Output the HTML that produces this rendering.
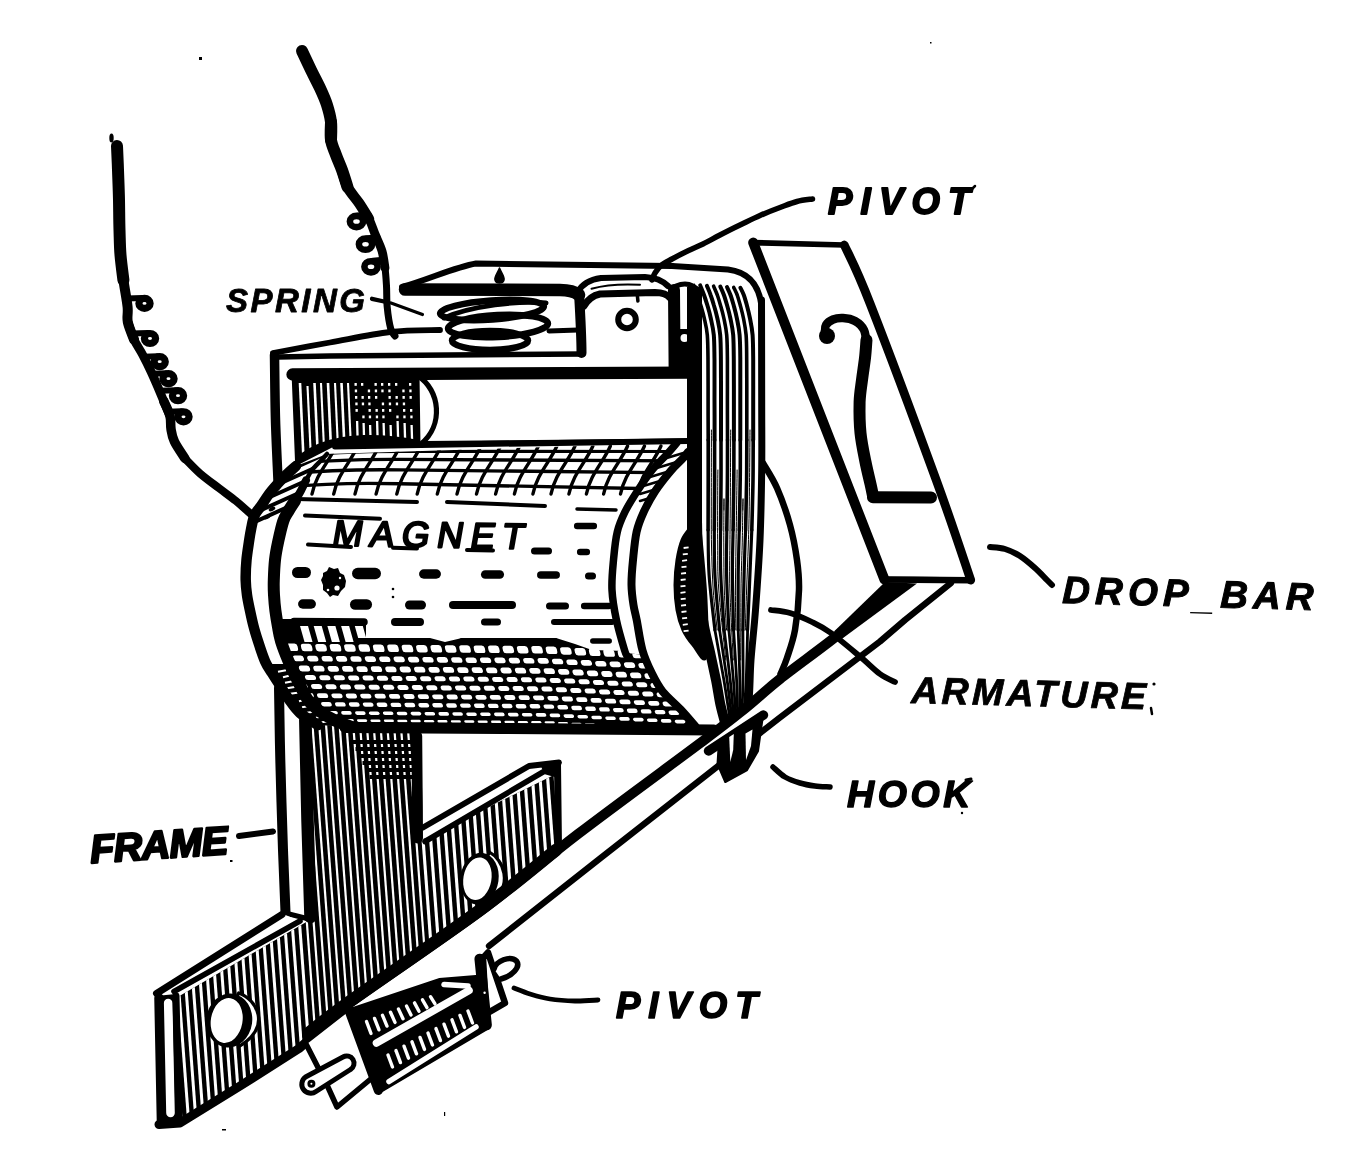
<!DOCTYPE html>
<html><head><meta charset="utf-8"><title>Annunciator drop</title>
<style>
html,body{margin:0;padding:0;background:#fff;}
body{width:1364px;height:1176px;overflow:hidden;font-family:"Liberation Sans",sans-serif;}
svg{display:block;will-change:transform;transform:translateZ(0)}
svg text{font-family:"Liberation Sans",sans-serif;font-weight:bold;font-style:italic;fill:#000;stroke:#000;stroke-width:1.3px;stroke-linejoin:round;paint-order:stroke}
</style></head><body>
<svg width="1364" height="1176" viewBox="0 0 1364 1176" fill="none" stroke="#000" stroke-linecap="round" stroke-linejoin="round">
<rect x="0" y="0" width="1364" height="1176" fill="#fff" stroke="none"/>
<defs>
<clipPath id="cLF"><path d="M302,716 L421,733 L423,839 L556,774 L558,850 L480,911.5 L349,1003.5 L306,1038 L299,1047 L240,1085 L182,1121 L176,998 L308,921Z"/></clipPath>
<clipPath id="cUF"><path d="M293,372 L418,372 L418,455 L298,475Z"/></clipPath>
</defs>
<path d="M302.0,51.0 C303.5,54.2 308.0,63.8 311.0,70.0 C314.0,76.2 317.3,82.2 320.0,88.0 C322.7,93.8 325.2,99.3 327.0,105.0 C328.8,110.7 330.3,116.2 331.0,122.0 C331.7,127.8 331.0,137.0 331.0,140.0" stroke-width="12" />
<path d="M331.0,122.0 C331.0,125.0 330.2,134.5 331.0,140.0 C331.8,145.5 334.2,150.0 336.0,155.0 C337.8,160.0 340.1,164.7 342.0,170.0 C343.9,175.3 346.6,184.2 347.5,187.0" stroke-width="12" />
<path d="M342.0,170.0 C342.9,172.8 344.7,181.5 347.5,187.0 C350.3,192.5 355.4,197.7 359.0,203.0 C362.6,208.3 367.3,216.3 369.0,219.0" stroke-width="10.5" />
<path d="M359.0,203.0 C360.7,205.7 366.3,213.8 369.0,219.0 C371.7,224.2 372.8,228.7 375.0,234.0 C377.2,239.3 380.3,245.3 382.0,251.0 C383.7,256.7 384.5,265.2 385.0,268.0" stroke-width="8.8" />
<path d="M382.0,251.0 C382.5,253.8 384.2,262.2 385.0,268.0 C385.8,273.8 386.1,279.5 386.5,286.0 C386.9,292.5 386.5,299.8 387.2,307.0 C387.9,314.2 389.5,324.2 390.8,329.0 C392.1,333.8 394.3,334.8 395.0,336.0" stroke-width="7" />
<ellipse cx="356.5" cy="221.5" rx="6.6" ry="5.6" stroke-width="6.6"/>
<line x1="358.5" y1="215.5" x2="368.5" y2="214.5" stroke-width="6"/>
<ellipse cx="365.5" cy="244.2" rx="6.6" ry="5.6" stroke-width="6.6"/>
<line x1="367.5" y1="238.2" x2="377.5" y2="237.2" stroke-width="6"/>
<ellipse cx="371" cy="266.8" rx="6.6" ry="5.6" stroke-width="6.6"/>
<line x1="373.0" y1="260.8" x2="383.0" y2="259.8" stroke-width="6"/>
<path d="M117.0,146.0 C117.2,150.0 117.7,161.0 118.0,170.0 C118.3,179.0 118.8,190.0 119.0,200.0 C119.2,210.0 119.2,220.8 119.5,230.0 C119.8,239.2 119.8,246.7 120.5,255.0 C121.2,263.3 122.9,275.8 123.4,280.0" stroke-width="12" />
<path d="M120.5,255.0 C121.0,259.2 122.2,271.3 123.4,280.0 C124.6,288.7 126.9,300.0 127.6,307.0 C128.3,314.0 126.7,316.6 127.8,322.0 C128.9,327.4 133.0,336.6 134.0,339.5" stroke-width="10" />
<path d="M127.8,322.0 C128.8,324.9 131.6,334.1 134.0,339.5 C136.4,344.9 139.7,349.2 142.5,354.5 C145.3,359.8 148.5,366.2 151.0,371.5 C153.5,376.8 155.3,381.1 157.4,386.0 C159.5,390.9 161.6,396.0 163.7,401.0 C165.8,406.0 168.9,413.5 170.0,416.0" stroke-width="8.8" />
<path d="M163.7,401.0 C164.8,403.5 168.8,411.3 170.0,416.0 C171.2,420.7 170.3,424.8 171.0,429.0 C171.7,433.2 172.1,436.6 174.4,441.5 C176.7,446.4 183.2,455.7 185.0,458.5" stroke-width="9.5" />
<path d="M185.0,458.5 C187.5,461.0 194.3,468.4 200.0,473.4 C205.7,478.3 213.0,483.6 219.0,488.2 C225.0,492.8 230.3,496.4 236.0,501.0 C241.7,505.6 250.2,513.5 253.0,516.0" stroke-width="8" />
<ellipse cx="111.5" cy="138" rx="2.2" ry="4.5" fill="#000" stroke="none"/>
<ellipse cx="144.5" cy="303.4" rx="5.6" ry="5.0" stroke-width="7.2"/>
<line x1="126.3" y1="298.4" x2="142.5" y2="297.9" stroke-width="6"/>
<ellipse cx="150" cy="338.5" rx="5.6" ry="5.0" stroke-width="7.2"/>
<line x1="131.9" y1="333.5" x2="148.0" y2="333.0" stroke-width="6"/>
<ellipse cx="159.7" cy="361.7" rx="5.6" ry="5.0" stroke-width="7.2"/>
<line x1="143.6" y1="356.7" x2="157.7" y2="356.2" stroke-width="6"/>
<ellipse cx="168.5" cy="378.7" rx="5.6" ry="5.0" stroke-width="7.2"/>
<line x1="152.0" y1="373.7" x2="166.5" y2="373.2" stroke-width="6"/>
<ellipse cx="178" cy="395.7" rx="5.6" ry="5.0" stroke-width="7.2"/>
<line x1="159.4" y1="390.7" x2="176.0" y2="390.2" stroke-width="6"/>
<ellipse cx="183.5" cy="416.8" rx="5.6" ry="5.0" stroke-width="7.2"/>
<line x1="168.2" y1="411.8" x2="181.5" y2="411.3" stroke-width="6"/>
<g clip-path="url(#cUF)">
<rect x="290" y="368" width="130" height="110" fill="#000" stroke="none"/>
<line x1="300.0" y1="383" x2="304.0" y2="470" stroke="#fff" stroke-width="2.6" stroke-linecap="butt"/>
<line x1="307.5" y1="386" x2="311.5" y2="470" stroke="#fff" stroke-width="2.1" stroke-linecap="butt"/>
<line x1="314.5" y1="383" x2="318.5" y2="470" stroke="#fff" stroke-width="2.6" stroke-linecap="butt"/>
<line x1="321.0" y1="383" x2="325.0" y2="470" stroke="#fff" stroke-width="2.1" stroke-linecap="butt"/>
<line x1="328.0" y1="383" x2="332.0" y2="470" stroke="#fff" stroke-width="2.6" stroke-linecap="butt"/>
<line x1="335.0" y1="383" x2="339.0" y2="470" stroke="#fff" stroke-width="2.1" stroke-linecap="butt"/>
<line x1="341.5" y1="383" x2="345.5" y2="470" stroke="#fff" stroke-width="2.6" stroke-linecap="butt"/>
<line x1="348.0" y1="383" x2="352.0" y2="470" stroke="#fff" stroke-width="2.1" stroke-linecap="butt"/>
<rect x="354.5" y="383" width="2.3" height="2.8" fill="#fff" stroke="none"/>
<rect x="354.8" y="389.5" width="2.3" height="2.8" fill="#fff" stroke="none"/>
<rect x="355.0" y="396" width="2.3" height="2.8" fill="#fff" stroke="none"/>
<rect x="355.3" y="402.5" width="2.3" height="2.8" fill="#fff" stroke="none"/>
<rect x="355.5" y="409" width="2.3" height="2.8" fill="#fff" stroke="none"/>
<line x1="357.1" y1="421" x2="358.5" y2="470" stroke="#fff" stroke-width="2.3" stroke-linecap="butt"/>
<rect x="361.0" y="383" width="2.3" height="2.8" fill="#fff" stroke="none"/>
<rect x="361.5" y="396" width="2.3" height="2.8" fill="#fff" stroke="none"/>
<rect x="361.8" y="402.5" width="2.3" height="2.8" fill="#fff" stroke="none"/>
<rect x="362.3" y="415.5" width="2.3" height="2.8" fill="#fff" stroke="none"/>
<line x1="363.6" y1="423" x2="365.0" y2="470" stroke="#fff" stroke-width="2.3" stroke-linecap="butt"/>
<rect x="367.8" y="389.5" width="2.3" height="2.8" fill="#fff" stroke="none"/>
<rect x="368.0" y="396" width="2.3" height="2.8" fill="#fff" stroke="none"/>
<rect x="368.3" y="402.5" width="2.3" height="2.8" fill="#fff" stroke="none"/>
<rect x="368.5" y="409" width="2.3" height="2.8" fill="#fff" stroke="none"/>
<rect x="368.8" y="415.5" width="2.3" height="2.8" fill="#fff" stroke="none"/>
<line x1="370.1" y1="425" x2="371.5" y2="470" stroke="#fff" stroke-width="2.3" stroke-linecap="butt"/>
<rect x="374.5" y="383" width="2.3" height="2.8" fill="#fff" stroke="none"/>
<rect x="374.8" y="389.5" width="2.3" height="2.8" fill="#fff" stroke="none"/>
<rect x="375.0" y="396" width="2.3" height="2.8" fill="#fff" stroke="none"/>
<rect x="375.5" y="409" width="2.3" height="2.8" fill="#fff" stroke="none"/>
<rect x="375.8" y="415.5" width="2.3" height="2.8" fill="#fff" stroke="none"/>
<line x1="377.1" y1="421" x2="378.5" y2="470" stroke="#fff" stroke-width="2.3" stroke-linecap="butt"/>
<rect x="381.0" y="383" width="2.3" height="2.8" fill="#fff" stroke="none"/>
<rect x="381.3" y="389.5" width="2.3" height="2.8" fill="#fff" stroke="none"/>
<rect x="381.8" y="402.5" width="2.3" height="2.8" fill="#fff" stroke="none"/>
<rect x="382.0" y="409" width="2.3" height="2.8" fill="#fff" stroke="none"/>
<rect x="382.3" y="415.5" width="2.3" height="2.8" fill="#fff" stroke="none"/>
<line x1="383.6" y1="423" x2="385.0" y2="470" stroke="#fff" stroke-width="2.3" stroke-linecap="butt"/>
<rect x="388.0" y="383" width="2.3" height="2.8" fill="#fff" stroke="none"/>
<rect x="388.3" y="389.5" width="2.3" height="2.8" fill="#fff" stroke="none"/>
<rect x="388.5" y="396" width="2.3" height="2.8" fill="#fff" stroke="none"/>
<rect x="388.8" y="402.5" width="2.3" height="2.8" fill="#fff" stroke="none"/>
<rect x="389.0" y="409" width="2.3" height="2.8" fill="#fff" stroke="none"/>
<line x1="390.6" y1="425" x2="392.0" y2="470" stroke="#fff" stroke-width="2.3" stroke-linecap="butt"/>
<rect x="395.0" y="383" width="2.3" height="2.8" fill="#fff" stroke="none"/>
<rect x="395.5" y="396" width="2.3" height="2.8" fill="#fff" stroke="none"/>
<rect x="395.8" y="402.5" width="2.3" height="2.8" fill="#fff" stroke="none"/>
<rect x="396.3" y="415.5" width="2.3" height="2.8" fill="#fff" stroke="none"/>
<line x1="397.6" y1="421" x2="399.0" y2="470" stroke="#fff" stroke-width="2.3" stroke-linecap="butt"/>
<rect x="402.3" y="389.5" width="2.3" height="2.8" fill="#fff" stroke="none"/>
<rect x="402.5" y="396" width="2.3" height="2.8" fill="#fff" stroke="none"/>
<rect x="402.8" y="402.5" width="2.3" height="2.8" fill="#fff" stroke="none"/>
<rect x="403.0" y="409" width="2.3" height="2.8" fill="#fff" stroke="none"/>
<rect x="403.3" y="415.5" width="2.3" height="2.8" fill="#fff" stroke="none"/>
<line x1="404.6" y1="423" x2="406.0" y2="470" stroke="#fff" stroke-width="2.3" stroke-linecap="butt"/>
<rect x="409.0" y="383" width="2.3" height="2.8" fill="#fff" stroke="none"/>
<rect x="409.3" y="389.5" width="2.3" height="2.8" fill="#fff" stroke="none"/>
<rect x="409.5" y="396" width="2.3" height="2.8" fill="#fff" stroke="none"/>
<rect x="410.0" y="409" width="2.3" height="2.8" fill="#fff" stroke="none"/>
<rect x="410.3" y="415.5" width="2.3" height="2.8" fill="#fff" stroke="none"/>
<line x1="411.6" y1="425" x2="413.0" y2="470" stroke="#fff" stroke-width="2.3" stroke-linecap="butt"/>
</g>
<path d="M274.5,355.0 C274.7,365.8 274.9,399.2 275.5,420.0 C276.1,440.8 277.6,470.0 278.0,480.0" stroke-width="9.5" />
<path d="M273.0,353.0 C282.5,351.2 310.5,346.0 330.0,342.5 C349.5,339.0 371.7,334.1 390.0,332.0 C408.3,329.9 431.7,330.3 440.0,330.0" stroke-width="5.8" />
<path d="M278.0,357.0 L330.0,356.0 L450.0,355.0 L583.0,354.0" stroke-width="5.4" />
<path d="M292.5,374.5 L690.0,372.6" stroke-width="12.3" />
<path d="M294.0,372.0 L298.0,474.0" stroke-width="5" />
<path d="M418,376 C440,390 444,425 421,444" stroke-width="5.2"/>
<path d="M417.0,374.0 L418.0,446.0" stroke-width="5" />
<path d="M424.0,444.0 L688.0,441.5" stroke-width="6" />
<g clip-path="url(#cLF)">
<rect x="150" y="700" width="420" height="440" fill="#000" stroke="none"/>
<line x1="120.0" y1="700" x2="153.0" y2="1140" stroke="#fff" stroke-width="3.0" stroke-linecap="butt"/>
<line x1="127.4" y1="700" x2="160.4" y2="1140" stroke="#fff" stroke-width="3.0" stroke-linecap="butt"/>
<line x1="134.8" y1="700" x2="167.8" y2="1140" stroke="#fff" stroke-width="3.0" stroke-linecap="butt"/>
<line x1="142.2" y1="700" x2="175.2" y2="1140" stroke="#fff" stroke-width="3.0" stroke-linecap="butt"/>
<line x1="149.6" y1="700" x2="182.6" y2="1140" stroke="#fff" stroke-width="3.0" stroke-linecap="butt"/>
<line x1="157.0" y1="700" x2="190.0" y2="1140" stroke="#fff" stroke-width="3.0" stroke-linecap="butt"/>
<line x1="164.4" y1="700" x2="197.4" y2="1140" stroke="#fff" stroke-width="3.0" stroke-linecap="butt"/>
<line x1="171.8" y1="700" x2="204.8" y2="1140" stroke="#fff" stroke-width="3.0" stroke-linecap="butt"/>
<line x1="179.2" y1="700" x2="212.2" y2="1140" stroke="#fff" stroke-width="3.0" stroke-linecap="butt"/>
<line x1="186.6" y1="700" x2="219.6" y2="1140" stroke="#fff" stroke-width="3.0" stroke-linecap="butt"/>
<line x1="194.0" y1="700" x2="227.0" y2="1140" stroke="#fff" stroke-width="3.0" stroke-linecap="butt"/>
<line x1="201.4" y1="700" x2="234.4" y2="1140" stroke="#fff" stroke-width="3.0" stroke-linecap="butt"/>
<line x1="208.8" y1="700" x2="241.8" y2="1140" stroke="#fff" stroke-width="3.0" stroke-linecap="butt"/>
<line x1="216.2" y1="700" x2="249.2" y2="1140" stroke="#fff" stroke-width="3.0" stroke-linecap="butt"/>
<line x1="223.6" y1="700" x2="256.6" y2="1140" stroke="#fff" stroke-width="3.0" stroke-linecap="butt"/>
<line x1="231.0" y1="700" x2="264.0" y2="1140" stroke="#fff" stroke-width="3.0" stroke-linecap="butt"/>
<line x1="238.4" y1="700" x2="271.4" y2="1140" stroke="#fff" stroke-width="3.0" stroke-linecap="butt"/>
<line x1="245.8" y1="700" x2="278.8" y2="1140" stroke="#fff" stroke-width="3.0" stroke-linecap="butt"/>
<line x1="253.2" y1="700" x2="286.2" y2="1140" stroke="#fff" stroke-width="3.0" stroke-linecap="butt"/>
<line x1="260.6" y1="700" x2="293.6" y2="1140" stroke="#fff" stroke-width="3.0" stroke-linecap="butt"/>
<line x1="268.0" y1="700" x2="301.0" y2="1140" stroke="#fff" stroke-width="3.0" stroke-linecap="butt"/>
<line x1="275.4" y1="700" x2="308.4" y2="1140" stroke="#fff" stroke-width="3.0" stroke-linecap="butt"/>
<line x1="282.8" y1="700" x2="315.8" y2="1140" stroke="#fff" stroke-width="3.0" stroke-linecap="butt"/>
<line x1="290.2" y1="700" x2="323.2" y2="1140" stroke="#fff" stroke-width="2.2" stroke-linecap="butt"/>
<line x1="297.0" y1="700" x2="330.0" y2="1140" stroke="#fff" stroke-width="2.2" stroke-linecap="butt"/>
<line x1="303.8" y1="700" x2="336.8" y2="1140" stroke="#fff" stroke-width="2.2" stroke-linecap="butt"/>
<line x1="310.6" y1="700" x2="343.6" y2="1140" stroke="#fff" stroke-width="2.2" stroke-linecap="butt"/>
<line x1="317.4" y1="700" x2="350.4" y2="1140" stroke="#fff" stroke-width="2.2" stroke-linecap="butt"/>
<line x1="324.2" y1="700" x2="357.2" y2="1140" stroke="#fff" stroke-width="2.2" stroke-linecap="butt"/>
<line x1="331.0" y1="700" x2="364.0" y2="1140" stroke="#fff" stroke-width="2.2" stroke-linecap="butt"/>
<line x1="337.8" y1="700" x2="370.8" y2="1140" stroke="#fff" stroke-width="2.2" stroke-linecap="butt"/>
<line x1="344.6" y1="700" x2="377.6" y2="1140" stroke="#fff" stroke-width="2.2" stroke-linecap="butt"/>
<line x1="351.4" y1="700" x2="384.4" y2="1140" stroke="#fff" stroke-width="2.2" stroke-linecap="butt"/>
<line x1="358.2" y1="700" x2="391.2" y2="1140" stroke="#fff" stroke-width="2.2" stroke-linecap="butt"/>
<line x1="365.0" y1="700" x2="398.0" y2="1140" stroke="#fff" stroke-width="2.2" stroke-linecap="butt"/>
<line x1="371.8" y1="700" x2="404.8" y2="1140" stroke="#fff" stroke-width="2.2" stroke-linecap="butt"/>
<line x1="378.6" y1="700" x2="411.6" y2="1140" stroke="#fff" stroke-width="2.2" stroke-linecap="butt"/>
<line x1="385.4" y1="700" x2="418.4" y2="1140" stroke="#fff" stroke-width="2.2" stroke-linecap="butt"/>
<line x1="392.2" y1="700" x2="425.2" y2="1140" stroke="#fff" stroke-width="2.2" stroke-linecap="butt"/>
<line x1="399.0" y1="700" x2="432.0" y2="1140" stroke="#fff" stroke-width="2.2" stroke-linecap="butt"/>
<line x1="405.8" y1="700" x2="438.8" y2="1140" stroke="#fff" stroke-width="2.2" stroke-linecap="butt"/>
<line x1="412.6" y1="700" x2="445.6" y2="1140" stroke="#fff" stroke-width="3.1" stroke-linecap="butt"/>
<line x1="420.2" y1="700" x2="453.2" y2="1140" stroke="#fff" stroke-width="3.1" stroke-linecap="butt"/>
<line x1="427.8" y1="700" x2="460.8" y2="1140" stroke="#fff" stroke-width="3.1" stroke-linecap="butt"/>
<line x1="435.4" y1="700" x2="468.4" y2="1140" stroke="#fff" stroke-width="3.1" stroke-linecap="butt"/>
<line x1="443.0" y1="700" x2="476.0" y2="1140" stroke="#fff" stroke-width="3.1" stroke-linecap="butt"/>
<line x1="450.6" y1="700" x2="483.6" y2="1140" stroke="#fff" stroke-width="3.1" stroke-linecap="butt"/>
<line x1="458.2" y1="700" x2="491.2" y2="1140" stroke="#fff" stroke-width="3.1" stroke-linecap="butt"/>
<line x1="465.8" y1="700" x2="498.8" y2="1140" stroke="#fff" stroke-width="3.1" stroke-linecap="butt"/>
<line x1="473.4" y1="700" x2="506.4" y2="1140" stroke="#fff" stroke-width="3.1" stroke-linecap="butt"/>
<line x1="481.0" y1="700" x2="514.0" y2="1140" stroke="#fff" stroke-width="3.1" stroke-linecap="butt"/>
<line x1="488.6" y1="700" x2="521.6" y2="1140" stroke="#fff" stroke-width="3.1" stroke-linecap="butt"/>
<line x1="496.2" y1="700" x2="529.2" y2="1140" stroke="#fff" stroke-width="3.1" stroke-linecap="butt"/>
<line x1="503.8" y1="700" x2="536.8" y2="1140" stroke="#fff" stroke-width="3.1" stroke-linecap="butt"/>
<line x1="511.4" y1="700" x2="544.4" y2="1140" stroke="#fff" stroke-width="3.1" stroke-linecap="butt"/>
<line x1="519.0" y1="700" x2="552.0" y2="1140" stroke="#fff" stroke-width="3.1" stroke-linecap="butt"/>
<line x1="526.6" y1="700" x2="559.6" y2="1140" stroke="#fff" stroke-width="3.1" stroke-linecap="butt"/>
<line x1="534.2" y1="700" x2="567.2" y2="1140" stroke="#fff" stroke-width="3.1" stroke-linecap="butt"/>
<line x1="541.8" y1="700" x2="574.8" y2="1140" stroke="#fff" stroke-width="3.1" stroke-linecap="butt"/>
<line x1="549.4" y1="700" x2="582.4" y2="1140" stroke="#fff" stroke-width="3.1" stroke-linecap="butt"/>
<line x1="352.0" y1="742" x2="416" y2="742" stroke="#000" stroke-width="3.8" stroke-linecap="butt"/>
<line x1="355.5" y1="749" x2="416" y2="749" stroke="#000" stroke-width="3.8" stroke-linecap="butt"/>
<line x1="359.0" y1="756" x2="416" y2="756" stroke="#000" stroke-width="3.8" stroke-linecap="butt"/>
<line x1="362.5" y1="763" x2="416" y2="763" stroke="#000" stroke-width="3.8" stroke-linecap="butt"/>
<line x1="366.0" y1="770" x2="416" y2="770" stroke="#000" stroke-width="3.8" stroke-linecap="butt"/>
<line x1="369.5" y1="777" x2="416" y2="777" stroke="#000" stroke-width="3.8" stroke-linecap="butt"/>
</g>
<path d="M305.3,720.0 L307.5,820.0 L310.5,917.0" stroke-width="12.5" />
<path d="M416.8,736.0 L417.6,838.0" stroke-width="10.8" />
<path d="M557.5,764.0 L558.5,848.0" stroke-width="7" />
<path d="M279.0,688.0 C279.2,700.0 279.6,733.0 280.3,760.0 C281.0,787.0 282.1,824.7 283.0,850.0 C283.9,875.3 285.1,901.7 285.5,912.0" stroke-width="10" />
<path d="M285.0,913.0 L309.0,919.0" stroke-width="5" />
<path d="M157.0,994.0 L283.0,914.0 L300.0,921.0 L175.0,991.0Z" fill="#fff" stroke="none" stroke-width="0" />
<path d="M156.5,993.5 L282.0,914.5" stroke-width="7" />
<path d="M174.0,991.5 L300.0,921.0" stroke-width="5.6" />
<path d="M156.0,996.0 L176.0,994.0 L179.0,1119.0 L159.0,1126.0Z" fill="#000" stroke="none" stroke-width="0" />
<path d="M159.0,998.0 L161.5,1123.0" stroke-width="9.5" />
<path d="M168.2,1003 L170.5,1113" stroke="#fff" stroke-width="8.6" stroke-linecap="round"/>
<path d="M176.0,996.0 L179.0,1119.0" stroke-width="7" />
<path d="M159.0,1124.5 L180.0,1123.0 L240.0,1086.0 L299.0,1048.5 L307.0,1041.5" stroke-width="9" />
<path d="M423.0,828.0 L541.0,766.0 L544.0,774.0 L426.0,841.0Z" fill="#fff" stroke="none" stroke-width="0" />
<path d="M541.0,766.0 L558.0,761.0 L558.0,778.0 L544.0,774.0Z" fill="#000" stroke="none" stroke-width="0" />
<path d="M423.0,827.5 L529.0,766.0 L559.0,762.5" stroke-width="5.8" />
<path d="M425.0,841.5 L543.0,772.0" stroke-width="5.6" />
<path d="M238.7,992.9 C257.5,999.9 271.4,1026.5 239.7,1046.1 L226.7,1020.5 Z" fill="#fff" stroke="#000" stroke-width="3.2"/>
<ellipse cx="229.2" cy="1020.5" rx="23.0" ry="27.1" fill="#000" stroke="none" transform="rotate(8 229.2 1020.5)"/>
<ellipse cx="226.7" cy="1020.5" rx="15.8" ry="22.6" fill="#fff" stroke="none" transform="rotate(10 226.7 1020.5)"/>
<path d="M489.4,852.2 C502.9,859.2 514.4,884.7 490.4,903.2 L477.4,878.7 Z" fill="#fff" stroke="#000" stroke-width="3.2"/>
<ellipse cx="479.4" cy="878.7" rx="19.2" ry="26.0" fill="#000" stroke="none" transform="rotate(8 479.4 878.7)"/>
<ellipse cx="477.4" cy="878.7" rx="14.0" ry="21.5" fill="#fff" stroke="none" transform="rotate(10 477.4 878.7)"/>
<path d="M296,458 C318,437 360,429 419,440 L419,450 L335,452 L300,466 Z" fill="#000" stroke="none"/>
<path d="M296.0,466.0 C294.2,467.7 288.1,473.0 285.0,476.0 C281.9,479.0 280.1,481.0 277.4,484.0 C274.7,487.0 271.7,490.3 269.0,494.0 C266.3,497.7 263.4,502.5 261.0,506.0 C258.6,509.5 256.3,511.5 254.7,515.0 C253.1,518.5 252.4,522.6 251.5,527.0 C250.6,531.4 249.8,536.1 249.0,541.6 C248.2,547.1 247.1,553.6 246.5,560.0 C245.9,566.4 245.6,574.2 245.7,580.0 C245.8,585.8 246.3,589.9 247.0,595.0 C247.7,600.1 248.9,605.4 250.0,610.6 C251.1,615.8 252.2,620.9 253.5,626.0 C254.8,631.1 256.1,635.3 258.0,641.2 C259.9,647.1 262.9,656.3 265.2,661.6 C267.5,666.9 269.7,669.3 272.0,673.0 C274.3,676.7 276.2,679.7 279.0,684.0 C281.8,688.3 285.1,694.2 288.6,699.0 C292.1,703.8 295.1,708.7 300.0,713.0 C304.9,717.3 315.0,723.0 318.0,725.0 L714,731 L696,727 L696.0,727.0 L680.5,709.3 L662.6,691.4 L652.0,673.6 L642.4,650.0 L636.7,620.0 L633.5,605.0 L631.5,585.0 L633.0,560.0 L636.6,531.8 L644.0,511.4 L655.3,491.0 L671.0,470.6 L682.9,458.4 L688.0,452.0 L687,440 L335,446 Z" fill="#fff" stroke="none"/>
<defs><clipPath id="cBody"><path d="M327.0,454.0 C326.1,455.0 324.0,457.3 321.5,460.0 C319.0,462.7 314.6,466.6 312.0,470.0 C309.4,473.4 307.8,477.0 306.0,480.4 C304.2,483.8 302.8,487.2 301.0,490.6 C299.2,494.0 297.1,497.4 295.0,500.8 C292.9,504.2 290.4,507.6 288.5,511.0 C286.6,514.4 285.0,515.9 283.3,521.0 C281.6,526.1 279.6,535.1 278.2,541.6 C276.8,548.1 275.7,553.6 275.0,560.0 C274.3,566.4 274.0,574.2 273.8,580.0 C273.6,585.8 273.7,589.9 274.0,595.0 C274.3,600.1 274.7,605.3 275.4,610.6 C276.1,615.9 277.1,621.9 278.0,627.0 C278.9,632.1 279.2,635.4 281.0,641.2 C282.8,647.0 285.8,654.8 288.7,661.6 C291.6,668.4 295.2,675.6 298.4,682.0 C301.6,688.4 304.4,695.1 308.0,700.0 C311.6,704.9 315.5,708.1 320.0,711.5 C324.5,714.9 329.7,717.9 335.0,720.5 C340.3,723.1 349.2,725.9 352.0,727.0 L692,728 L692.0,725.0 L680.5,709.3 L662.6,691.4 L652.0,673.6 L644.0,655.0 L627.0,653.0 L627.0,656.0 L624.5,650.0 L616.4,620.0 L612.0,590.0 L613.5,560.0 L617.3,531.8 L625.2,511.4 L637.4,491.0 L651.7,470.6 L666.0,455.3 L676.7,443.0 L327,454 Z"/></clipPath>
<clipPath id="cLFl"><path d="M296.0,466.0 C294.2,467.7 288.1,473.0 285.0,476.0 C281.9,479.0 280.1,481.0 277.4,484.0 C274.7,487.0 271.7,490.3 269.0,494.0 C266.3,497.7 263.4,502.5 261.0,506.0 C258.6,509.5 256.3,511.5 254.7,515.0 C253.1,518.5 252.4,522.6 251.5,527.0 C250.6,531.4 249.8,536.1 249.0,541.6 C248.2,547.1 247.1,553.6 246.5,560.0 C245.9,566.4 245.6,574.2 245.7,580.0 C245.8,585.8 246.3,589.9 247.0,595.0 C247.7,600.1 248.9,605.4 250.0,610.6 C251.1,615.8 252.2,620.9 253.5,626.0 C254.8,631.1 256.1,635.3 258.0,641.2 C259.9,647.1 262.9,656.3 265.2,661.6 C267.5,666.9 269.7,669.3 272.0,673.0 C274.3,676.7 276.2,679.7 279.0,684.0 C281.8,688.3 285.1,694.2 288.6,699.0 C292.1,703.8 295.1,708.7 300.0,713.0 C304.9,717.3 315.0,723.0 318.0,725.0 L352,727 L352.0,727.0 L335.0,720.5 L320.0,711.5 L308.0,700.0 L298.4,682.0 L288.7,661.6 L281.0,641.2 L278.0,627.0 L275.4,610.6 L274.0,595.0 L273.8,580.0 L275.0,560.0 L278.2,541.6 L283.3,521.0 L288.5,511.0 L295.0,500.8 L301.0,490.6 L306.0,480.4 L312.0,470.0 L321.5,460.0 L327.0,454.0 Z"/></clipPath>
<clipPath id="cRFl"><path d="M676.7,443.0 C674.9,445.1 670.2,450.7 666.0,455.3 C661.8,459.9 656.5,464.7 651.7,470.6 C646.9,476.6 641.8,484.2 637.4,491.0 C633.0,497.8 628.6,504.6 625.2,511.4 C621.9,518.2 619.2,523.7 617.3,531.8 C615.3,539.9 614.4,550.3 613.5,560.0 C612.6,569.7 611.5,580.0 612.0,590.0 C612.5,600.0 614.3,610.0 616.4,620.0 C618.5,630.0 622.7,644.0 624.5,650.0 C626.3,656.0 625.8,653.5 627.0,656.0 C628.2,658.5 629.5,661.0 632.0,665.0 C634.5,669.0 638.2,675.0 642.0,680.0 C645.8,685.0 650.3,690.3 655.0,695.0 C659.7,699.7 664.5,703.3 670.0,708.0 C675.5,712.7 685.0,720.5 688.0,723.0 L696,727 L696.0,727.0 L680.5,709.3 L662.6,691.4 L652.0,673.6 L642.4,650.0 L636.7,620.0 L633.5,605.0 L631.5,585.0 L633.0,560.0 L636.6,531.8 L644.0,511.4 L655.3,491.0 L671.0,470.6 L682.9,458.4 L688.0,452.0 Z"/></clipPath></defs>
<g clip-path="url(#cBody)">
<path d="M280,457.5 Q330,451.5 400,451.4 L690,451.5" stroke-width="3.2"/>
<path d="M280,465 Q330,459 400,459.4 L690,461.0" stroke-width="3.3"/>
<path d="M280,475 Q330,469 400,469.9 L690,473.0" stroke-width="3.4"/>
<path d="M280,488 Q330,482 400,483.8 L690,489.5" stroke-width="3.4"/>
<path d="M296,499 L417,502" stroke-width="4"/>
<path d="M336.0,446 C329.0,462 316.0,474 312.0,494" stroke-width="3.4"/>
<path d="M357.7,446 C350.7,462 337.7,474 333.7,494" stroke-width="3.4"/>
<path d="M379.0,446 C372.0,462 359.0,474 355.0,494" stroke-width="3.4"/>
<path d="M400.1,446 C393.1,462 380.1,474 376.1,494" stroke-width="3.4"/>
<path d="M420.8,446 C413.8,462 400.8,474 396.8,494" stroke-width="3.4"/>
<path d="M441.2,446 C434.2,462 421.2,474 417.2,494" stroke-width="3.4"/>
<path d="M461.3,446 C454.3,462 441.3,474 437.3,494" stroke-width="3.4"/>
<path d="M481.0,446 C474.0,462 461.0,474 457.0,494" stroke-width="3.4"/>
<path d="M500.5,446 C493.5,462 480.5,474 476.5,494" stroke-width="3.4"/>
<path d="M519.6,446 C512.6,462 499.6,474 495.6,494" stroke-width="3.4"/>
<path d="M538.4,446 C531.4,462 518.4,474 514.4,494" stroke-width="3.4"/>
<path d="M556.9,446 C549.9,462 536.9,474 532.9,494" stroke-width="3.4"/>
<path d="M575.0,446 C568.0,462 555.0,474 551.0,494" stroke-width="3.4"/>
<path d="M592.9,446 C585.9,462 572.9,474 568.9,494" stroke-width="3.4"/>
<path d="M610.4,446 C603.4,462 590.4,474 586.4,494" stroke-width="3.4"/>
<path d="M627.6,446 C620.6,462 607.6,474 603.6,494" stroke-width="3.4"/>
<path d="M644.5,446 C637.5,462 624.5,474 620.5,494" stroke-width="3.4"/>
<path d="M661.0,446 C654.0,462 641.0,474 637.0,494" stroke-width="3.4"/>
<path d="M677.3,446 C670.3,462 657.3,474 653.3,494" stroke-width="3.4"/>
<path d="M693.3,446 C686.3,462 673.3,474 669.3,494" stroke-width="3.4"/>
<path d="M709.3,446 C702.3,462 689.3,474 685.3,494" stroke-width="3.4"/>
<path d="M260.0,619.0 L366.0,619.0 L366.0,638.0 L430.0,638.0 L445.0,642.0 L462.0,638.0 L556.0,638.0 L575.0,644.0 L592.0,650.0 L660.0,652.0 L720.0,735.0 L250.0,735.0Z" fill="#000" stroke="none" stroke-width="0" />
<path d="M300.0,626 l8,0 l4.5,16 l-8,0 z" fill="#fff" stroke="none"/>
<path d="M313.7,626 l8,0 l4.5,16 l-8,0 z" fill="#fff" stroke="none"/>
<path d="M327.4,626 l8,0 l4.5,16 l-8,0 z" fill="#fff" stroke="none"/>
<path d="M341.1,626 l8,0 l4.5,16 l-8,0 z" fill="#fff" stroke="none"/>
<path d="M354.8,626 l8,0 l4.5,16 l-8,0 z" fill="#fff" stroke="none"/>
<rect x="258.0" y="643.3" width="11" height="7.5" rx="2.6" fill="#fff" stroke="none" transform="skewX(12)" transform-origin="258.0 647.1"/>
<rect x="272.4" y="643.5" width="11" height="7.5" rx="2.6" fill="#fff" stroke="none" transform="skewX(12)" transform-origin="272.4 647.2"/>
<rect x="286.8" y="643.6" width="11" height="7.5" rx="2.6" fill="#fff" stroke="none" transform="skewX(12)" transform-origin="286.8 647.4"/>
<rect x="301.2" y="643.8" width="11" height="7.5" rx="2.6" fill="#fff" stroke="none" transform="skewX(12)" transform-origin="301.2 647.5"/>
<rect x="315.6" y="643.9" width="11" height="7.5" rx="2.6" fill="#fff" stroke="none" transform="skewX(12)" transform-origin="315.6 647.7"/>
<rect x="330.0" y="644.0" width="11" height="7.5" rx="2.6" fill="#fff" stroke="none" transform="skewX(12)" transform-origin="330.0 647.8"/>
<rect x="344.4" y="644.2" width="11" height="7.5" rx="2.6" fill="#fff" stroke="none" transform="skewX(12)" transform-origin="344.4 647.9"/>
<rect x="358.8" y="644.3" width="11" height="7.5" rx="2.6" fill="#fff" stroke="none" transform="skewX(12)" transform-origin="358.8 648.1"/>
<rect x="373.2" y="644.5" width="11" height="7.5" rx="2.6" fill="#fff" stroke="none" transform="skewX(12)" transform-origin="373.2 648.2"/>
<rect x="387.6" y="644.6" width="11" height="7.5" rx="2.6" fill="#fff" stroke="none" transform="skewX(12)" transform-origin="387.6 648.4"/>
<rect x="402.0" y="644.8" width="11" height="7.5" rx="2.6" fill="#fff" stroke="none" transform="skewX(12)" transform-origin="402.0 648.5"/>
<rect x="416.4" y="644.9" width="11" height="7.5" rx="2.6" fill="#fff" stroke="none" transform="skewX(12)" transform-origin="416.4 648.7"/>
<rect x="430.8" y="645.1" width="11" height="7.5" rx="2.6" fill="#fff" stroke="none" transform="skewX(12)" transform-origin="430.8 648.8"/>
<rect x="445.2" y="645.2" width="11" height="7.5" rx="2.6" fill="#fff" stroke="none" transform="skewX(12)" transform-origin="445.2 649.0"/>
<rect x="459.6" y="645.3" width="11" height="7.5" rx="2.6" fill="#fff" stroke="none" transform="skewX(12)" transform-origin="459.6 649.1"/>
<rect x="474.0" y="645.5" width="11" height="7.5" rx="2.6" fill="#fff" stroke="none" transform="skewX(12)" transform-origin="474.0 649.2"/>
<rect x="488.4" y="645.6" width="11" height="7.5" rx="2.6" fill="#fff" stroke="none" transform="skewX(12)" transform-origin="488.4 649.4"/>
<rect x="502.8" y="645.8" width="11" height="7.5" rx="2.6" fill="#fff" stroke="none" transform="skewX(12)" transform-origin="502.8 649.5"/>
<rect x="517.2" y="645.9" width="11" height="7.5" rx="2.6" fill="#fff" stroke="none" transform="skewX(12)" transform-origin="517.2 649.7"/>
<rect x="531.6" y="646.1" width="11" height="7.5" rx="2.6" fill="#fff" stroke="none" transform="skewX(12)" transform-origin="531.6 649.8"/>
<rect x="546.0" y="646.5" width="11" height="7.5" rx="2.6" fill="#fff" stroke="none" transform="skewX(12)" transform-origin="546.0 650.2"/>
<rect x="560.4" y="647.2" width="11" height="7.5" rx="2.6" fill="#fff" stroke="none" transform="skewX(12)" transform-origin="560.4 650.9"/>
<rect x="574.8" y="647.9" width="11" height="7.5" rx="2.6" fill="#fff" stroke="none" transform="skewX(12)" transform-origin="574.8 651.6"/>
<rect x="589.2" y="648.6" width="11" height="7.5" rx="2.6" fill="#fff" stroke="none" transform="skewX(12)" transform-origin="589.2 652.4"/>
<rect x="603.6" y="649.3" width="11" height="7.5" rx="2.6" fill="#fff" stroke="none" transform="skewX(12)" transform-origin="603.6 653.1"/>
<rect x="618.0" y="650.0" width="11" height="7.5" rx="2.6" fill="#fff" stroke="none" transform="skewX(12)" transform-origin="618.0 653.8"/>
<rect x="632.4" y="650.8" width="11" height="7.5" rx="2.6" fill="#fff" stroke="none" transform="skewX(12)" transform-origin="632.4 654.5"/>
<rect x="646.8" y="651.5" width="11" height="7.5" rx="2.6" fill="#fff" stroke="none" transform="skewX(12)" transform-origin="646.8 655.2"/>
<rect x="661.2" y="652.2" width="11" height="7.5" rx="2.6" fill="#fff" stroke="none" transform="skewX(12)" transform-origin="661.2 656.0"/>
<rect x="675.6" y="652.9" width="11" height="7.5" rx="2.6" fill="#fff" stroke="none" transform="skewX(12)" transform-origin="675.6 656.7"/>
<rect x="690.0" y="653.6" width="11" height="7.5" rx="2.6" fill="#fff" stroke="none" transform="skewX(12)" transform-origin="690.0 657.4"/>
<rect x="264.1" y="655.3" width="11" height="5.6" rx="2.6" fill="#fff" stroke="none" transform="skewX(12)" transform-origin="264.1 658.1"/>
<rect x="278.5" y="655.5" width="11" height="5.6" rx="2.6" fill="#fff" stroke="none" transform="skewX(12)" transform-origin="278.5 658.3"/>
<rect x="292.9" y="655.6" width="11" height="5.6" rx="2.6" fill="#fff" stroke="none" transform="skewX(12)" transform-origin="292.9 658.4"/>
<rect x="307.3" y="655.8" width="11" height="5.6" rx="2.6" fill="#fff" stroke="none" transform="skewX(12)" transform-origin="307.3 658.6"/>
<rect x="321.7" y="655.9" width="11" height="5.6" rx="2.6" fill="#fff" stroke="none" transform="skewX(12)" transform-origin="321.7 658.7"/>
<rect x="336.1" y="656.1" width="11" height="5.6" rx="2.6" fill="#fff" stroke="none" transform="skewX(12)" transform-origin="336.1 658.9"/>
<rect x="350.5" y="656.2" width="11" height="5.6" rx="2.6" fill="#fff" stroke="none" transform="skewX(12)" transform-origin="350.5 659.0"/>
<rect x="364.9" y="656.3" width="11" height="5.6" rx="2.6" fill="#fff" stroke="none" transform="skewX(12)" transform-origin="364.9 659.1"/>
<rect x="379.3" y="656.5" width="11" height="5.6" rx="2.6" fill="#fff" stroke="none" transform="skewX(12)" transform-origin="379.3 659.3"/>
<rect x="393.7" y="656.6" width="11" height="5.6" rx="2.6" fill="#fff" stroke="none" transform="skewX(12)" transform-origin="393.7 659.4"/>
<rect x="408.1" y="656.8" width="11" height="5.6" rx="2.6" fill="#fff" stroke="none" transform="skewX(12)" transform-origin="408.1 659.6"/>
<rect x="422.5" y="656.9" width="11" height="5.6" rx="2.6" fill="#fff" stroke="none" transform="skewX(12)" transform-origin="422.5 659.7"/>
<rect x="436.9" y="657.1" width="11" height="5.6" rx="2.6" fill="#fff" stroke="none" transform="skewX(12)" transform-origin="436.9 659.9"/>
<rect x="451.3" y="657.2" width="11" height="5.6" rx="2.6" fill="#fff" stroke="none" transform="skewX(12)" transform-origin="451.3 660.0"/>
<rect x="465.7" y="657.4" width="11" height="5.6" rx="2.6" fill="#fff" stroke="none" transform="skewX(12)" transform-origin="465.7 660.2"/>
<rect x="480.1" y="657.5" width="11" height="5.6" rx="2.6" fill="#fff" stroke="none" transform="skewX(12)" transform-origin="480.1 660.3"/>
<rect x="494.5" y="657.6" width="11" height="5.6" rx="2.6" fill="#fff" stroke="none" transform="skewX(12)" transform-origin="494.5 660.4"/>
<rect x="508.9" y="657.8" width="11" height="5.6" rx="2.6" fill="#fff" stroke="none" transform="skewX(12)" transform-origin="508.9 660.6"/>
<rect x="523.3" y="657.9" width="11" height="5.6" rx="2.6" fill="#fff" stroke="none" transform="skewX(12)" transform-origin="523.3 660.7"/>
<rect x="537.7" y="658.1" width="11" height="5.6" rx="2.6" fill="#fff" stroke="none" transform="skewX(12)" transform-origin="537.7 660.9"/>
<rect x="552.1" y="658.7" width="11" height="5.6" rx="2.6" fill="#fff" stroke="none" transform="skewX(12)" transform-origin="552.1 661.5"/>
<rect x="566.5" y="659.4" width="11" height="5.6" rx="2.6" fill="#fff" stroke="none" transform="skewX(12)" transform-origin="566.5 662.2"/>
<rect x="580.9" y="660.1" width="11" height="5.6" rx="2.6" fill="#fff" stroke="none" transform="skewX(12)" transform-origin="580.9 662.9"/>
<rect x="595.3" y="660.9" width="11" height="5.6" rx="2.6" fill="#fff" stroke="none" transform="skewX(12)" transform-origin="595.3 663.7"/>
<rect x="609.7" y="661.6" width="11" height="5.6" rx="2.6" fill="#fff" stroke="none" transform="skewX(12)" transform-origin="609.7 664.4"/>
<rect x="624.1" y="662.3" width="11" height="5.6" rx="2.6" fill="#fff" stroke="none" transform="skewX(12)" transform-origin="624.1 665.1"/>
<rect x="638.5" y="663.0" width="11" height="5.6" rx="2.6" fill="#fff" stroke="none" transform="skewX(12)" transform-origin="638.5 665.8"/>
<rect x="652.9" y="663.7" width="11" height="5.6" rx="2.6" fill="#fff" stroke="none" transform="skewX(12)" transform-origin="652.9 666.5"/>
<rect x="667.3" y="664.5" width="11" height="5.6" rx="2.6" fill="#fff" stroke="none" transform="skewX(12)" transform-origin="667.3 667.3"/>
<rect x="681.7" y="665.2" width="11" height="5.6" rx="2.6" fill="#fff" stroke="none" transform="skewX(12)" transform-origin="681.7 668.0"/>
<rect x="696.1" y="665.9" width="11" height="5.6" rx="2.6" fill="#fff" stroke="none" transform="skewX(12)" transform-origin="696.1 668.7"/>
<rect x="270.2" y="665.3" width="11" height="5.8" rx="2.6" fill="#fff" stroke="none" transform="skewX(12)" transform-origin="270.2 668.2"/>
<rect x="284.6" y="665.4" width="11" height="5.8" rx="2.6" fill="#fff" stroke="none" transform="skewX(12)" transform-origin="284.6 668.3"/>
<rect x="299.0" y="665.6" width="11" height="5.8" rx="2.6" fill="#fff" stroke="none" transform="skewX(12)" transform-origin="299.0 668.5"/>
<rect x="313.4" y="665.7" width="11" height="5.8" rx="2.6" fill="#fff" stroke="none" transform="skewX(12)" transform-origin="313.4 668.6"/>
<rect x="327.8" y="665.9" width="11" height="5.8" rx="2.6" fill="#fff" stroke="none" transform="skewX(12)" transform-origin="327.8 668.8"/>
<rect x="342.2" y="666.0" width="11" height="5.8" rx="2.6" fill="#fff" stroke="none" transform="skewX(12)" transform-origin="342.2 668.9"/>
<rect x="356.6" y="666.2" width="11" height="5.8" rx="2.6" fill="#fff" stroke="none" transform="skewX(12)" transform-origin="356.6 669.1"/>
<rect x="371.0" y="666.3" width="11" height="5.8" rx="2.6" fill="#fff" stroke="none" transform="skewX(12)" transform-origin="371.0 669.2"/>
<rect x="385.4" y="666.5" width="11" height="5.8" rx="2.6" fill="#fff" stroke="none" transform="skewX(12)" transform-origin="385.4 669.4"/>
<rect x="399.8" y="666.6" width="11" height="5.8" rx="2.6" fill="#fff" stroke="none" transform="skewX(12)" transform-origin="399.8 669.5"/>
<rect x="414.2" y="666.7" width="11" height="5.8" rx="2.6" fill="#fff" stroke="none" transform="skewX(12)" transform-origin="414.2 669.6"/>
<rect x="428.6" y="666.9" width="11" height="5.8" rx="2.6" fill="#fff" stroke="none" transform="skewX(12)" transform-origin="428.6 669.8"/>
<rect x="443.0" y="667.0" width="11" height="5.8" rx="2.6" fill="#fff" stroke="none" transform="skewX(12)" transform-origin="443.0 669.9"/>
<rect x="457.4" y="667.2" width="11" height="5.8" rx="2.6" fill="#fff" stroke="none" transform="skewX(12)" transform-origin="457.4 670.1"/>
<rect x="471.8" y="667.3" width="11" height="5.8" rx="2.6" fill="#fff" stroke="none" transform="skewX(12)" transform-origin="471.8 670.2"/>
<rect x="486.2" y="667.5" width="11" height="5.8" rx="2.6" fill="#fff" stroke="none" transform="skewX(12)" transform-origin="486.2 670.4"/>
<rect x="500.6" y="667.6" width="11" height="5.8" rx="2.6" fill="#fff" stroke="none" transform="skewX(12)" transform-origin="500.6 670.5"/>
<rect x="515.0" y="667.8" width="11" height="5.8" rx="2.6" fill="#fff" stroke="none" transform="skewX(12)" transform-origin="515.0 670.6"/>
<rect x="529.4" y="667.9" width="11" height="5.8" rx="2.6" fill="#fff" stroke="none" transform="skewX(12)" transform-origin="529.4 670.8"/>
<rect x="543.8" y="668.2" width="11" height="5.8" rx="2.6" fill="#fff" stroke="none" transform="skewX(12)" transform-origin="543.8 671.1"/>
<rect x="558.2" y="668.9" width="11" height="5.8" rx="2.6" fill="#fff" stroke="none" transform="skewX(12)" transform-origin="558.2 671.8"/>
<rect x="572.6" y="669.6" width="11" height="5.8" rx="2.6" fill="#fff" stroke="none" transform="skewX(12)" transform-origin="572.6 672.5"/>
<rect x="587.0" y="670.4" width="11" height="5.8" rx="2.6" fill="#fff" stroke="none" transform="skewX(12)" transform-origin="587.0 673.2"/>
<rect x="601.4" y="671.1" width="11" height="5.8" rx="2.6" fill="#fff" stroke="none" transform="skewX(12)" transform-origin="601.4 674.0"/>
<rect x="615.8" y="671.8" width="11" height="5.8" rx="2.6" fill="#fff" stroke="none" transform="skewX(12)" transform-origin="615.8 674.7"/>
<rect x="630.2" y="672.5" width="11" height="5.8" rx="2.6" fill="#fff" stroke="none" transform="skewX(12)" transform-origin="630.2 675.4"/>
<rect x="644.6" y="673.2" width="11" height="5.8" rx="2.6" fill="#fff" stroke="none" transform="skewX(12)" transform-origin="644.6 676.1"/>
<rect x="659.0" y="674.0" width="11" height="5.8" rx="2.6" fill="#fff" stroke="none" transform="skewX(12)" transform-origin="659.0 676.9"/>
<rect x="673.4" y="674.7" width="11" height="5.8" rx="2.6" fill="#fff" stroke="none" transform="skewX(12)" transform-origin="673.4 677.6"/>
<rect x="687.8" y="675.4" width="11" height="5.8" rx="2.6" fill="#fff" stroke="none" transform="skewX(12)" transform-origin="687.8 678.3"/>
<rect x="261.8" y="674.6" width="11" height="5.0" rx="2.5" fill="#fff" stroke="none" transform="skewX(12)" transform-origin="261.8 677.1"/>
<rect x="276.2" y="674.8" width="11" height="5.0" rx="2.5" fill="#fff" stroke="none" transform="skewX(12)" transform-origin="276.2 677.3"/>
<rect x="290.6" y="674.9" width="11" height="5.0" rx="2.5" fill="#fff" stroke="none" transform="skewX(12)" transform-origin="290.6 677.4"/>
<rect x="305.0" y="675.0" width="11" height="5.0" rx="2.5" fill="#fff" stroke="none" transform="skewX(12)" transform-origin="305.0 677.5"/>
<rect x="319.4" y="675.2" width="11" height="5.0" rx="2.5" fill="#fff" stroke="none" transform="skewX(12)" transform-origin="319.4 677.7"/>
<rect x="333.8" y="675.3" width="11" height="5.0" rx="2.5" fill="#fff" stroke="none" transform="skewX(12)" transform-origin="333.8 677.8"/>
<rect x="348.2" y="675.5" width="11" height="5.0" rx="2.5" fill="#fff" stroke="none" transform="skewX(12)" transform-origin="348.2 678.0"/>
<rect x="362.6" y="675.6" width="11" height="5.0" rx="2.5" fill="#fff" stroke="none" transform="skewX(12)" transform-origin="362.6 678.1"/>
<rect x="377.0" y="675.8" width="11" height="5.0" rx="2.5" fill="#fff" stroke="none" transform="skewX(12)" transform-origin="377.0 678.3"/>
<rect x="391.4" y="675.9" width="11" height="5.0" rx="2.5" fill="#fff" stroke="none" transform="skewX(12)" transform-origin="391.4 678.4"/>
<rect x="405.8" y="676.1" width="11" height="5.0" rx="2.5" fill="#fff" stroke="none" transform="skewX(12)" transform-origin="405.8 678.6"/>
<rect x="420.2" y="676.2" width="11" height="5.0" rx="2.5" fill="#fff" stroke="none" transform="skewX(12)" transform-origin="420.2 678.7"/>
<rect x="434.6" y="676.3" width="11" height="5.0" rx="2.5" fill="#fff" stroke="none" transform="skewX(12)" transform-origin="434.6 678.8"/>
<rect x="449.0" y="676.5" width="11" height="5.0" rx="2.5" fill="#fff" stroke="none" transform="skewX(12)" transform-origin="449.0 679.0"/>
<rect x="463.4" y="676.6" width="11" height="5.0" rx="2.5" fill="#fff" stroke="none" transform="skewX(12)" transform-origin="463.4 679.1"/>
<rect x="477.8" y="676.8" width="11" height="5.0" rx="2.5" fill="#fff" stroke="none" transform="skewX(12)" transform-origin="477.8 679.3"/>
<rect x="492.2" y="676.9" width="11" height="5.0" rx="2.5" fill="#fff" stroke="none" transform="skewX(12)" transform-origin="492.2 679.4"/>
<rect x="506.6" y="677.1" width="11" height="5.0" rx="2.5" fill="#fff" stroke="none" transform="skewX(12)" transform-origin="506.6 679.6"/>
<rect x="521.0" y="677.2" width="11" height="5.0" rx="2.5" fill="#fff" stroke="none" transform="skewX(12)" transform-origin="521.0 679.7"/>
<rect x="535.4" y="677.4" width="11" height="5.0" rx="2.5" fill="#fff" stroke="none" transform="skewX(12)" transform-origin="535.4 679.9"/>
<rect x="549.8" y="677.9" width="11" height="5.0" rx="2.5" fill="#fff" stroke="none" transform="skewX(12)" transform-origin="549.8 680.4"/>
<rect x="564.2" y="678.6" width="11" height="5.0" rx="2.5" fill="#fff" stroke="none" transform="skewX(12)" transform-origin="564.2 681.1"/>
<rect x="578.6" y="679.3" width="11" height="5.0" rx="2.5" fill="#fff" stroke="none" transform="skewX(12)" transform-origin="578.6 681.8"/>
<rect x="593.0" y="680.0" width="11" height="5.0" rx="2.5" fill="#fff" stroke="none" transform="skewX(12)" transform-origin="593.0 682.5"/>
<rect x="607.4" y="680.8" width="11" height="5.0" rx="2.5" fill="#fff" stroke="none" transform="skewX(12)" transform-origin="607.4 683.3"/>
<rect x="621.8" y="681.5" width="11" height="5.0" rx="2.5" fill="#fff" stroke="none" transform="skewX(12)" transform-origin="621.8 684.0"/>
<rect x="636.2" y="682.2" width="11" height="5.0" rx="2.5" fill="#fff" stroke="none" transform="skewX(12)" transform-origin="636.2 684.7"/>
<rect x="650.6" y="682.9" width="11" height="5.0" rx="2.5" fill="#fff" stroke="none" transform="skewX(12)" transform-origin="650.6 685.4"/>
<rect x="665.0" y="683.6" width="11" height="5.0" rx="2.5" fill="#fff" stroke="none" transform="skewX(12)" transform-origin="665.0 686.1"/>
<rect x="679.4" y="684.4" width="11" height="5.0" rx="2.5" fill="#fff" stroke="none" transform="skewX(12)" transform-origin="679.4 686.9"/>
<rect x="693.8" y="685.1" width="11" height="5.0" rx="2.5" fill="#fff" stroke="none" transform="skewX(12)" transform-origin="693.8 687.6"/>
<rect x="267.9" y="683.7" width="11" height="5.0" rx="2.5" fill="#fff" stroke="none" transform="skewX(12)" transform-origin="267.9 686.2"/>
<rect x="282.3" y="683.8" width="11" height="5.0" rx="2.5" fill="#fff" stroke="none" transform="skewX(12)" transform-origin="282.3 686.3"/>
<rect x="296.7" y="684.0" width="11" height="5.0" rx="2.5" fill="#fff" stroke="none" transform="skewX(12)" transform-origin="296.7 686.5"/>
<rect x="311.1" y="684.1" width="11" height="5.0" rx="2.5" fill="#fff" stroke="none" transform="skewX(12)" transform-origin="311.1 686.6"/>
<rect x="325.5" y="684.3" width="11" height="5.0" rx="2.5" fill="#fff" stroke="none" transform="skewX(12)" transform-origin="325.5 686.8"/>
<rect x="339.9" y="684.4" width="11" height="5.0" rx="2.5" fill="#fff" stroke="none" transform="skewX(12)" transform-origin="339.9 686.9"/>
<rect x="354.3" y="684.5" width="11" height="5.0" rx="2.5" fill="#fff" stroke="none" transform="skewX(12)" transform-origin="354.3 687.0"/>
<rect x="368.7" y="684.7" width="11" height="5.0" rx="2.5" fill="#fff" stroke="none" transform="skewX(12)" transform-origin="368.7 687.2"/>
<rect x="383.1" y="684.8" width="11" height="5.0" rx="2.5" fill="#fff" stroke="none" transform="skewX(12)" transform-origin="383.1 687.3"/>
<rect x="397.5" y="685.0" width="11" height="5.0" rx="2.5" fill="#fff" stroke="none" transform="skewX(12)" transform-origin="397.5 687.5"/>
<rect x="411.9" y="685.1" width="11" height="5.0" rx="2.5" fill="#fff" stroke="none" transform="skewX(12)" transform-origin="411.9 687.6"/>
<rect x="426.3" y="685.3" width="11" height="5.0" rx="2.5" fill="#fff" stroke="none" transform="skewX(12)" transform-origin="426.3 687.8"/>
<rect x="440.7" y="685.4" width="11" height="5.0" rx="2.5" fill="#fff" stroke="none" transform="skewX(12)" transform-origin="440.7 687.9"/>
<rect x="455.1" y="685.6" width="11" height="5.0" rx="2.5" fill="#fff" stroke="none" transform="skewX(12)" transform-origin="455.1 688.1"/>
<rect x="469.5" y="685.7" width="11" height="5.0" rx="2.5" fill="#fff" stroke="none" transform="skewX(12)" transform-origin="469.5 688.2"/>
<rect x="483.9" y="685.8" width="11" height="5.0" rx="2.5" fill="#fff" stroke="none" transform="skewX(12)" transform-origin="483.9 688.3"/>
<rect x="498.3" y="686.0" width="11" height="5.0" rx="2.5" fill="#fff" stroke="none" transform="skewX(12)" transform-origin="498.3 688.5"/>
<rect x="512.7" y="686.1" width="11" height="5.0" rx="2.5" fill="#fff" stroke="none" transform="skewX(12)" transform-origin="512.7 688.6"/>
<rect x="527.1" y="686.3" width="11" height="5.0" rx="2.5" fill="#fff" stroke="none" transform="skewX(12)" transform-origin="527.1 688.8"/>
<rect x="541.5" y="686.5" width="11" height="5.0" rx="2.5" fill="#fff" stroke="none" transform="skewX(12)" transform-origin="541.5 689.0"/>
<rect x="555.9" y="687.2" width="11" height="5.0" rx="2.5" fill="#fff" stroke="none" transform="skewX(12)" transform-origin="555.9 689.7"/>
<rect x="570.3" y="687.9" width="11" height="5.0" rx="2.5" fill="#fff" stroke="none" transform="skewX(12)" transform-origin="570.3 690.4"/>
<rect x="584.7" y="688.6" width="11" height="5.0" rx="2.5" fill="#fff" stroke="none" transform="skewX(12)" transform-origin="584.7 691.1"/>
<rect x="599.1" y="689.4" width="11" height="5.0" rx="2.5" fill="#fff" stroke="none" transform="skewX(12)" transform-origin="599.1 691.9"/>
<rect x="613.5" y="690.1" width="11" height="5.0" rx="2.5" fill="#fff" stroke="none" transform="skewX(12)" transform-origin="613.5 692.6"/>
<rect x="627.9" y="690.8" width="11" height="5.0" rx="2.5" fill="#fff" stroke="none" transform="skewX(12)" transform-origin="627.9 693.3"/>
<rect x="642.3" y="691.5" width="11" height="5.0" rx="2.5" fill="#fff" stroke="none" transform="skewX(12)" transform-origin="642.3 694.0"/>
<rect x="656.7" y="692.2" width="11" height="5.0" rx="2.5" fill="#fff" stroke="none" transform="skewX(12)" transform-origin="656.7 694.7"/>
<rect x="671.1" y="693.0" width="11" height="5.0" rx="2.5" fill="#fff" stroke="none" transform="skewX(12)" transform-origin="671.1 695.5"/>
<rect x="685.5" y="693.7" width="11" height="5.0" rx="2.5" fill="#fff" stroke="none" transform="skewX(12)" transform-origin="685.5 696.2"/>
<rect x="699.9" y="694.4" width="11" height="5.0" rx="2.5" fill="#fff" stroke="none" transform="skewX(12)" transform-origin="699.9 696.9"/>
<rect x="259.5" y="692.7" width="11" height="4.8" rx="2.4" fill="#fff" stroke="none" transform="skewX(12)" transform-origin="259.5 695.1"/>
<rect x="273.9" y="692.8" width="11" height="4.8" rx="2.4" fill="#fff" stroke="none" transform="skewX(12)" transform-origin="273.9 695.2"/>
<rect x="288.3" y="693.0" width="11" height="4.8" rx="2.4" fill="#fff" stroke="none" transform="skewX(12)" transform-origin="288.3 695.4"/>
<rect x="302.7" y="693.1" width="11" height="4.8" rx="2.4" fill="#fff" stroke="none" transform="skewX(12)" transform-origin="302.7 695.5"/>
<rect x="317.1" y="693.3" width="11" height="4.8" rx="2.4" fill="#fff" stroke="none" transform="skewX(12)" transform-origin="317.1 695.7"/>
<rect x="331.5" y="693.4" width="11" height="4.8" rx="2.4" fill="#fff" stroke="none" transform="skewX(12)" transform-origin="331.5 695.8"/>
<rect x="345.9" y="693.6" width="11" height="4.8" rx="2.4" fill="#fff" stroke="none" transform="skewX(12)" transform-origin="345.9 696.0"/>
<rect x="360.3" y="693.7" width="11" height="4.8" rx="2.4" fill="#fff" stroke="none" transform="skewX(12)" transform-origin="360.3 696.1"/>
<rect x="374.7" y="693.8" width="11" height="4.8" rx="2.4" fill="#fff" stroke="none" transform="skewX(12)" transform-origin="374.7 696.2"/>
<rect x="389.1" y="694.0" width="11" height="4.8" rx="2.4" fill="#fff" stroke="none" transform="skewX(12)" transform-origin="389.1 696.4"/>
<rect x="403.5" y="694.1" width="11" height="4.8" rx="2.4" fill="#fff" stroke="none" transform="skewX(12)" transform-origin="403.5 696.5"/>
<rect x="417.9" y="694.3" width="11" height="4.8" rx="2.4" fill="#fff" stroke="none" transform="skewX(12)" transform-origin="417.9 696.7"/>
<rect x="432.3" y="694.4" width="11" height="4.8" rx="2.4" fill="#fff" stroke="none" transform="skewX(12)" transform-origin="432.3 696.8"/>
<rect x="446.7" y="694.6" width="11" height="4.8" rx="2.4" fill="#fff" stroke="none" transform="skewX(12)" transform-origin="446.7 697.0"/>
<rect x="461.1" y="694.7" width="11" height="4.8" rx="2.4" fill="#fff" stroke="none" transform="skewX(12)" transform-origin="461.1 697.1"/>
<rect x="475.5" y="694.9" width="11" height="4.8" rx="2.4" fill="#fff" stroke="none" transform="skewX(12)" transform-origin="475.5 697.3"/>
<rect x="489.9" y="695.0" width="11" height="4.8" rx="2.4" fill="#fff" stroke="none" transform="skewX(12)" transform-origin="489.9 697.4"/>
<rect x="504.3" y="695.1" width="11" height="4.8" rx="2.4" fill="#fff" stroke="none" transform="skewX(12)" transform-origin="504.3 697.5"/>
<rect x="518.7" y="695.3" width="11" height="4.8" rx="2.4" fill="#fff" stroke="none" transform="skewX(12)" transform-origin="518.7 697.7"/>
<rect x="533.1" y="695.4" width="11" height="4.8" rx="2.4" fill="#fff" stroke="none" transform="skewX(12)" transform-origin="533.1 697.8"/>
<rect x="547.5" y="695.9" width="11" height="4.8" rx="2.4" fill="#fff" stroke="none" transform="skewX(12)" transform-origin="547.5 698.3"/>
<rect x="561.9" y="696.6" width="11" height="4.8" rx="2.4" fill="#fff" stroke="none" transform="skewX(12)" transform-origin="561.9 699.0"/>
<rect x="576.3" y="697.3" width="11" height="4.8" rx="2.4" fill="#fff" stroke="none" transform="skewX(12)" transform-origin="576.3 699.7"/>
<rect x="590.7" y="698.0" width="11" height="4.8" rx="2.4" fill="#fff" stroke="none" transform="skewX(12)" transform-origin="590.7 700.4"/>
<rect x="605.1" y="698.8" width="11" height="4.8" rx="2.4" fill="#fff" stroke="none" transform="skewX(12)" transform-origin="605.1 701.2"/>
<rect x="619.5" y="699.5" width="11" height="4.8" rx="2.4" fill="#fff" stroke="none" transform="skewX(12)" transform-origin="619.5 701.9"/>
<rect x="633.9" y="700.2" width="11" height="4.8" rx="2.4" fill="#fff" stroke="none" transform="skewX(12)" transform-origin="633.9 702.6"/>
<rect x="648.3" y="700.9" width="11" height="4.8" rx="2.4" fill="#fff" stroke="none" transform="skewX(12)" transform-origin="648.3 703.3"/>
<rect x="662.7" y="701.6" width="11" height="4.8" rx="2.4" fill="#fff" stroke="none" transform="skewX(12)" transform-origin="662.7 704.0"/>
<rect x="677.1" y="702.4" width="11" height="4.8" rx="2.4" fill="#fff" stroke="none" transform="skewX(12)" transform-origin="677.1 704.8"/>
<rect x="691.5" y="703.1" width="11" height="4.8" rx="2.4" fill="#fff" stroke="none" transform="skewX(12)" transform-origin="691.5 705.5"/>
<rect x="265.6" y="701.5" width="10.5" height="4.4" rx="2.2" fill="#fff" stroke="none" transform="skewX(12)" transform-origin="265.6 703.7"/>
<rect x="279.5" y="701.6" width="10.5" height="4.4" rx="2.2" fill="#fff" stroke="none" transform="skewX(12)" transform-origin="279.5 703.8"/>
<rect x="293.4" y="701.7" width="10.5" height="4.4" rx="2.2" fill="#fff" stroke="none" transform="skewX(12)" transform-origin="293.4 703.9"/>
<rect x="307.3" y="701.9" width="10.5" height="4.4" rx="2.2" fill="#fff" stroke="none" transform="skewX(12)" transform-origin="307.3 704.1"/>
<rect x="321.2" y="702.0" width="10.5" height="4.4" rx="2.2" fill="#fff" stroke="none" transform="skewX(12)" transform-origin="321.2 704.2"/>
<rect x="335.1" y="702.2" width="10.5" height="4.4" rx="2.2" fill="#fff" stroke="none" transform="skewX(12)" transform-origin="335.1 704.4"/>
<rect x="349.0" y="702.3" width="10.5" height="4.4" rx="2.2" fill="#fff" stroke="none" transform="skewX(12)" transform-origin="349.0 704.5"/>
<rect x="362.9" y="702.4" width="10.5" height="4.4" rx="2.2" fill="#fff" stroke="none" transform="skewX(12)" transform-origin="362.9 704.6"/>
<rect x="376.8" y="702.6" width="10.5" height="4.4" rx="2.2" fill="#fff" stroke="none" transform="skewX(12)" transform-origin="376.8 704.8"/>
<rect x="390.7" y="702.7" width="10.5" height="4.4" rx="2.2" fill="#fff" stroke="none" transform="skewX(12)" transform-origin="390.7 704.9"/>
<rect x="404.6" y="702.8" width="10.5" height="4.4" rx="2.2" fill="#fff" stroke="none" transform="skewX(12)" transform-origin="404.6 705.0"/>
<rect x="418.5" y="703.0" width="10.5" height="4.4" rx="2.2" fill="#fff" stroke="none" transform="skewX(12)" transform-origin="418.5 705.2"/>
<rect x="432.4" y="703.1" width="10.5" height="4.4" rx="2.2" fill="#fff" stroke="none" transform="skewX(12)" transform-origin="432.4 705.3"/>
<rect x="446.3" y="703.3" width="10.5" height="4.4" rx="2.2" fill="#fff" stroke="none" transform="skewX(12)" transform-origin="446.3 705.5"/>
<rect x="460.2" y="703.4" width="10.5" height="4.4" rx="2.2" fill="#fff" stroke="none" transform="skewX(12)" transform-origin="460.2 705.6"/>
<rect x="474.1" y="703.5" width="10.5" height="4.4" rx="2.2" fill="#fff" stroke="none" transform="skewX(12)" transform-origin="474.1 705.7"/>
<rect x="488.0" y="703.7" width="10.5" height="4.4" rx="2.2" fill="#fff" stroke="none" transform="skewX(12)" transform-origin="488.0 705.9"/>
<rect x="501.9" y="703.8" width="10.5" height="4.4" rx="2.2" fill="#fff" stroke="none" transform="skewX(12)" transform-origin="501.9 706.0"/>
<rect x="515.8" y="704.0" width="10.5" height="4.4" rx="2.2" fill="#fff" stroke="none" transform="skewX(12)" transform-origin="515.8 706.2"/>
<rect x="529.7" y="704.1" width="10.5" height="4.4" rx="2.2" fill="#fff" stroke="none" transform="skewX(12)" transform-origin="529.7 706.3"/>
<rect x="543.6" y="704.4" width="10.5" height="4.4" rx="2.2" fill="#fff" stroke="none" transform="skewX(12)" transform-origin="543.6 706.6"/>
<rect x="557.5" y="705.1" width="10.5" height="4.4" rx="2.2" fill="#fff" stroke="none" transform="skewX(12)" transform-origin="557.5 707.3"/>
<rect x="571.4" y="705.8" width="10.5" height="4.4" rx="2.2" fill="#fff" stroke="none" transform="skewX(12)" transform-origin="571.4 708.0"/>
<rect x="585.3" y="706.5" width="10.5" height="4.4" rx="2.2" fill="#fff" stroke="none" transform="skewX(12)" transform-origin="585.3 708.7"/>
<rect x="599.2" y="707.2" width="10.5" height="4.4" rx="2.2" fill="#fff" stroke="none" transform="skewX(12)" transform-origin="599.2 709.4"/>
<rect x="613.1" y="707.9" width="10.5" height="4.4" rx="2.2" fill="#fff" stroke="none" transform="skewX(12)" transform-origin="613.1 710.1"/>
<rect x="627.0" y="708.5" width="10.5" height="4.4" rx="2.2" fill="#fff" stroke="none" transform="skewX(12)" transform-origin="627.0 710.8"/>
<rect x="640.9" y="709.2" width="10.5" height="4.4" rx="2.2" fill="#fff" stroke="none" transform="skewX(12)" transform-origin="640.9 711.4"/>
<rect x="654.8" y="709.9" width="10.5" height="4.4" rx="2.2" fill="#fff" stroke="none" transform="skewX(12)" transform-origin="654.8 712.1"/>
<rect x="668.7" y="710.6" width="10.5" height="4.4" rx="2.2" fill="#fff" stroke="none" transform="skewX(12)" transform-origin="668.7 712.8"/>
<rect x="682.6" y="711.3" width="10.5" height="4.4" rx="2.2" fill="#fff" stroke="none" transform="skewX(12)" transform-origin="682.6 713.5"/>
<rect x="696.5" y="712.0" width="10.5" height="4.4" rx="2.2" fill="#fff" stroke="none" transform="skewX(12)" transform-origin="696.5 714.2"/>
<rect x="271.7" y="710.4" width="10.5" height="3.6" rx="1.8" fill="#fff" stroke="none" transform="skewX(12)" transform-origin="271.7 712.2"/>
<rect x="285.6" y="710.6" width="10.5" height="3.6" rx="1.8" fill="#fff" stroke="none" transform="skewX(12)" transform-origin="285.6 712.4"/>
<rect x="299.5" y="710.7" width="10.5" height="3.6" rx="1.8" fill="#fff" stroke="none" transform="skewX(12)" transform-origin="299.5 712.5"/>
<rect x="313.4" y="710.8" width="10.5" height="3.6" rx="1.8" fill="#fff" stroke="none" transform="skewX(12)" transform-origin="313.4 712.6"/>
<rect x="327.3" y="711.0" width="10.5" height="3.6" rx="1.8" fill="#fff" stroke="none" transform="skewX(12)" transform-origin="327.3 712.8"/>
<rect x="341.2" y="711.1" width="10.5" height="3.6" rx="1.8" fill="#fff" stroke="none" transform="skewX(12)" transform-origin="341.2 712.9"/>
<rect x="355.1" y="711.3" width="10.5" height="3.6" rx="1.8" fill="#fff" stroke="none" transform="skewX(12)" transform-origin="355.1 713.1"/>
<rect x="369.0" y="711.4" width="10.5" height="3.6" rx="1.8" fill="#fff" stroke="none" transform="skewX(12)" transform-origin="369.0 713.2"/>
<rect x="382.9" y="711.5" width="10.5" height="3.6" rx="1.8" fill="#fff" stroke="none" transform="skewX(12)" transform-origin="382.9 713.3"/>
<rect x="396.8" y="711.7" width="10.5" height="3.6" rx="1.8" fill="#fff" stroke="none" transform="skewX(12)" transform-origin="396.8 713.5"/>
<rect x="410.7" y="711.8" width="10.5" height="3.6" rx="1.8" fill="#fff" stroke="none" transform="skewX(12)" transform-origin="410.7 713.6"/>
<rect x="424.6" y="711.9" width="10.5" height="3.6" rx="1.8" fill="#fff" stroke="none" transform="skewX(12)" transform-origin="424.6 713.7"/>
<rect x="438.5" y="712.1" width="10.5" height="3.6" rx="1.8" fill="#fff" stroke="none" transform="skewX(12)" transform-origin="438.5 713.9"/>
<rect x="452.4" y="712.2" width="10.5" height="3.6" rx="1.8" fill="#fff" stroke="none" transform="skewX(12)" transform-origin="452.4 714.0"/>
<rect x="466.3" y="712.4" width="10.5" height="3.6" rx="1.8" fill="#fff" stroke="none" transform="skewX(12)" transform-origin="466.3 714.2"/>
<rect x="480.2" y="712.5" width="10.5" height="3.6" rx="1.8" fill="#fff" stroke="none" transform="skewX(12)" transform-origin="480.2 714.3"/>
<rect x="494.1" y="712.6" width="10.5" height="3.6" rx="1.8" fill="#fff" stroke="none" transform="skewX(12)" transform-origin="494.1 714.4"/>
<rect x="508.0" y="712.8" width="10.5" height="3.6" rx="1.8" fill="#fff" stroke="none" transform="skewX(12)" transform-origin="508.0 714.6"/>
<rect x="521.9" y="712.9" width="10.5" height="3.6" rx="1.8" fill="#fff" stroke="none" transform="skewX(12)" transform-origin="521.9 714.7"/>
<rect x="535.8" y="713.1" width="10.5" height="3.6" rx="1.8" fill="#fff" stroke="none" transform="skewX(12)" transform-origin="535.8 714.9"/>
<rect x="549.7" y="713.6" width="10.5" height="3.6" rx="1.8" fill="#fff" stroke="none" transform="skewX(12)" transform-origin="549.7 715.4"/>
<rect x="563.6" y="714.3" width="10.5" height="3.6" rx="1.8" fill="#fff" stroke="none" transform="skewX(12)" transform-origin="563.6 716.1"/>
<rect x="577.5" y="715.0" width="10.5" height="3.6" rx="1.8" fill="#fff" stroke="none" transform="skewX(12)" transform-origin="577.5 716.8"/>
<rect x="591.4" y="715.7" width="10.5" height="3.6" rx="1.8" fill="#fff" stroke="none" transform="skewX(12)" transform-origin="591.4 717.5"/>
<rect x="605.3" y="716.4" width="10.5" height="3.6" rx="1.8" fill="#fff" stroke="none" transform="skewX(12)" transform-origin="605.3 718.2"/>
<rect x="619.2" y="717.1" width="10.5" height="3.6" rx="1.8" fill="#fff" stroke="none" transform="skewX(12)" transform-origin="619.2 718.9"/>
<rect x="633.1" y="717.8" width="10.5" height="3.6" rx="1.8" fill="#fff" stroke="none" transform="skewX(12)" transform-origin="633.1 719.6"/>
<rect x="647.0" y="718.5" width="10.5" height="3.6" rx="1.8" fill="#fff" stroke="none" transform="skewX(12)" transform-origin="647.0 720.2"/>
<rect x="660.9" y="719.1" width="10.5" height="3.6" rx="1.8" fill="#fff" stroke="none" transform="skewX(12)" transform-origin="660.9 720.9"/>
<rect x="674.8" y="719.8" width="10.5" height="3.6" rx="1.8" fill="#fff" stroke="none" transform="skewX(12)" transform-origin="674.8 721.6"/>
<rect x="688.7" y="720.5" width="10.5" height="3.6" rx="1.8" fill="#fff" stroke="none" transform="skewX(12)" transform-origin="688.7 722.3"/>
<rect x="263.3" y="718.3" width="10" height="2.6" rx="1.3" fill="#fff" stroke="none" transform="skewX(12)" transform-origin="263.3 719.6"/>
<rect x="276.7" y="718.5" width="10" height="2.6" rx="1.3" fill="#fff" stroke="none" transform="skewX(12)" transform-origin="276.7 719.8"/>
<rect x="290.1" y="718.6" width="10" height="2.6" rx="1.3" fill="#fff" stroke="none" transform="skewX(12)" transform-origin="290.1 719.9"/>
<rect x="303.5" y="718.7" width="10" height="2.6" rx="1.3" fill="#fff" stroke="none" transform="skewX(12)" transform-origin="303.5 720.0"/>
<rect x="316.9" y="718.9" width="10" height="2.6" rx="1.3" fill="#fff" stroke="none" transform="skewX(12)" transform-origin="316.9 720.2"/>
<rect x="330.3" y="719.0" width="10" height="2.6" rx="1.3" fill="#fff" stroke="none" transform="skewX(12)" transform-origin="330.3 720.3"/>
<rect x="343.7" y="719.1" width="10" height="2.6" rx="1.3" fill="#fff" stroke="none" transform="skewX(12)" transform-origin="343.7 720.4"/>
<rect x="357.1" y="719.3" width="10" height="2.6" rx="1.3" fill="#fff" stroke="none" transform="skewX(12)" transform-origin="357.1 720.6"/>
<rect x="370.5" y="719.4" width="10" height="2.6" rx="1.3" fill="#fff" stroke="none" transform="skewX(12)" transform-origin="370.5 720.7"/>
<rect x="383.9" y="719.5" width="10" height="2.6" rx="1.3" fill="#fff" stroke="none" transform="skewX(12)" transform-origin="383.9 720.8"/>
<rect x="397.3" y="719.7" width="10" height="2.6" rx="1.3" fill="#fff" stroke="none" transform="skewX(12)" transform-origin="397.3 721.0"/>
<rect x="410.7" y="719.8" width="10" height="2.6" rx="1.3" fill="#fff" stroke="none" transform="skewX(12)" transform-origin="410.7 721.1"/>
<rect x="424.1" y="719.9" width="10" height="2.6" rx="1.3" fill="#fff" stroke="none" transform="skewX(12)" transform-origin="424.1 721.2"/>
<rect x="437.5" y="720.1" width="10" height="2.6" rx="1.3" fill="#fff" stroke="none" transform="skewX(12)" transform-origin="437.5 721.4"/>
<rect x="450.9" y="720.2" width="10" height="2.6" rx="1.3" fill="#fff" stroke="none" transform="skewX(12)" transform-origin="450.9 721.5"/>
<rect x="464.3" y="720.3" width="10" height="2.6" rx="1.3" fill="#fff" stroke="none" transform="skewX(12)" transform-origin="464.3 721.6"/>
<rect x="477.7" y="720.5" width="10" height="2.6" rx="1.3" fill="#fff" stroke="none" transform="skewX(12)" transform-origin="477.7 721.8"/>
<rect x="491.1" y="720.6" width="10" height="2.6" rx="1.3" fill="#fff" stroke="none" transform="skewX(12)" transform-origin="491.1 721.9"/>
<rect x="504.5" y="720.7" width="10" height="2.6" rx="1.3" fill="#fff" stroke="none" transform="skewX(12)" transform-origin="504.5 722.0"/>
<rect x="517.9" y="720.9" width="10" height="2.6" rx="1.3" fill="#fff" stroke="none" transform="skewX(12)" transform-origin="517.9 722.2"/>
<rect x="531.3" y="721.0" width="10" height="2.6" rx="1.3" fill="#fff" stroke="none" transform="skewX(12)" transform-origin="531.3 722.3"/>
<rect x="544.7" y="721.3" width="10" height="2.6" rx="1.3" fill="#fff" stroke="none" transform="skewX(12)" transform-origin="544.7 722.6"/>
<rect x="558.1" y="722.0" width="10" height="2.6" rx="1.3" fill="#fff" stroke="none" transform="skewX(12)" transform-origin="558.1 723.3"/>
<rect x="571.5" y="722.7" width="10" height="2.6" rx="1.3" fill="#fff" stroke="none" transform="skewX(12)" transform-origin="571.5 724.0"/>
<rect x="584.9" y="723.3" width="10" height="2.6" rx="1.3" fill="#fff" stroke="none" transform="skewX(12)" transform-origin="584.9 724.6"/>
<rect x="598.3" y="724.0" width="10" height="2.6" rx="1.3" fill="#fff" stroke="none" transform="skewX(12)" transform-origin="598.3 725.3"/>
<rect x="611.7" y="724.7" width="10" height="2.6" rx="1.3" fill="#fff" stroke="none" transform="skewX(12)" transform-origin="611.7 726.0"/>
<rect x="625.1" y="725.4" width="10" height="2.6" rx="1.3" fill="#fff" stroke="none" transform="skewX(12)" transform-origin="625.1 726.7"/>
<rect x="638.5" y="726.0" width="10" height="2.6" rx="1.3" fill="#fff" stroke="none" transform="skewX(12)" transform-origin="638.5 727.3"/>
<rect x="651.9" y="726.7" width="10" height="2.6" rx="1.3" fill="#fff" stroke="none" transform="skewX(12)" transform-origin="651.9 728.0"/>
<rect x="665.3" y="727.4" width="10" height="2.6" rx="1.3" fill="#fff" stroke="none" transform="skewX(12)" transform-origin="665.3 728.7"/>
<rect x="678.7" y="728.0" width="10" height="2.6" rx="1.3" fill="#fff" stroke="none" transform="skewX(12)" transform-origin="678.7 729.3"/>
<rect x="692.1" y="728.7" width="10" height="2.6" rx="1.3" fill="#fff" stroke="none" transform="skewX(12)" transform-origin="692.1 730.0"/>
</g>
<g clip-path="url(#cLFl)">
<line x1="250" y1="488" x2="330" y2="452" stroke-width="4"/>
<line x1="250" y1="497" x2="330" y2="461" stroke-width="4"/>
<line x1="250" y1="506" x2="330" y2="470" stroke-width="4"/>
<line x1="250" y1="515" x2="330" y2="479" stroke-width="4"/>
<line x1="250" y1="524" x2="330" y2="488" stroke-width="4"/>
<path d="M240,664 L380,664 L380,740 L240,740Z" fill="#000" stroke="none"/>
<line x1="278" y1="671.8" x2="286" y2="670.2" stroke="#fff" stroke-width="2" stroke-linecap="butt"/>
<line x1="283" y1="677.3" x2="289" y2="675.7" stroke="#fff" stroke-width="2" stroke-linecap="butt"/>
<line x1="285" y1="682.8" x2="293" y2="681.2" stroke="#fff" stroke-width="2" stroke-linecap="butt"/>
<line x1="287" y1="688.3" x2="296" y2="686.7" stroke="#fff" stroke-width="2" stroke-linecap="butt"/>
<line x1="290" y1="693.8" x2="301" y2="692.2" stroke="#fff" stroke-width="2" stroke-linecap="butt"/>
<line x1="299" y1="701.3" x2="306" y2="699.7" stroke="#fff" stroke-width="2" stroke-linecap="butt"/>
<line x1="302" y1="707.3" x2="311" y2="705.7" stroke="#fff" stroke-width="2" stroke-linecap="butt"/>
<line x1="307" y1="712.8" x2="316" y2="711.2" stroke="#fff" stroke-width="2" stroke-linecap="butt"/>
<line x1="316" y1="717.8" x2="322" y2="716.2" stroke="#fff" stroke-width="2" stroke-linecap="butt"/>
<line x1="319" y1="722.8" x2="328" y2="721.2" stroke="#fff" stroke-width="2" stroke-linecap="butt"/>
</g>
<g clip-path="url(#cRFl)">
<line x1="640" y1="466" x2="700" y2="448" stroke-width="2.5"/>
<line x1="640" y1="473" x2="700" y2="455" stroke-width="2.5"/>
<line x1="640" y1="480" x2="700" y2="462" stroke-width="2.5"/>
<line x1="640" y1="487" x2="700" y2="469" stroke-width="2.5"/>
<line x1="640" y1="494" x2="700" y2="476" stroke-width="2.5"/>
<line x1="640" y1="501" x2="700" y2="483" stroke-width="2.5"/>
</g>
<path d="M296.0,466.0 C294.2,467.7 288.1,473.0 285.0,476.0 C281.9,479.0 280.1,481.0 277.4,484.0 C274.7,487.0 271.7,490.3 269.0,494.0 C266.3,497.7 263.4,502.5 261.0,506.0 C258.6,509.5 256.3,511.5 254.7,515.0 C253.1,518.5 252.4,522.6 251.5,527.0 C250.6,531.4 249.8,536.1 249.0,541.6 C248.2,547.1 247.1,553.6 246.5,560.0 C245.9,566.4 245.6,574.2 245.7,580.0 C245.8,585.8 246.3,589.9 247.0,595.0 C247.7,600.1 248.9,605.4 250.0,610.6 C251.1,615.8 252.2,620.9 253.5,626.0 C254.8,631.1 256.1,635.3 258.0,641.2 C259.9,647.1 262.9,656.3 265.2,661.6 C267.5,666.9 269.7,669.3 272.0,673.0 C274.3,676.7 276.2,679.7 279.0,684.0 C281.8,688.3 285.1,694.2 288.6,699.0 C292.1,703.8 295.1,708.7 300.0,713.0 C304.9,717.3 315.0,723.0 318.0,725.0" stroke-width="10.5" />
<path d="M327.0,454.0 C326.1,455.0 324.0,457.3 321.5,460.0 C319.0,462.7 314.6,466.6 312.0,470.0 C309.4,473.4 307.8,477.0 306.0,480.4 C304.2,483.8 301.8,488.9 301.0,490.6" stroke-width="4.5" />
<path d="M306.0,480.4 C305.2,482.1 302.8,487.2 301.0,490.6 C299.2,494.0 297.1,497.4 295.0,500.8 C292.9,504.2 289.6,509.3 288.5,511.0" stroke-width="8" />
<path d="M295.0,500.8 C293.9,502.5 290.4,507.6 288.5,511.0 C286.6,514.4 285.0,515.9 283.3,521.0 C281.6,526.1 279.6,535.1 278.2,541.6 C276.8,548.1 275.7,553.6 275.0,560.0 C274.3,566.4 274.0,574.2 273.8,580.0 C273.6,585.8 273.7,589.9 274.0,595.0 C274.3,600.1 274.7,605.3 275.4,610.6 C276.1,615.9 277.1,621.9 278.0,627.0 C278.9,632.1 279.2,635.4 281.0,641.2 C282.8,647.0 285.8,654.8 288.7,661.6 C291.6,668.4 295.2,675.6 298.4,682.0 C301.6,688.4 304.4,695.1 308.0,700.0 C311.6,704.9 315.5,708.1 320.0,711.5 C324.5,714.9 329.7,717.9 335.0,720.5 C340.3,723.1 349.2,725.9 352.0,727.0" stroke-width="12" />
<path d="M676.7,443.0 C674.9,445.1 670.2,450.7 666.0,455.3 C661.8,459.9 656.5,464.7 651.7,470.6 C646.9,476.6 641.8,484.2 637.4,491.0 C633.0,497.8 628.6,504.6 625.2,511.4 C621.9,518.2 619.2,523.7 617.3,531.8 C615.3,539.9 614.4,550.3 613.5,560.0 C612.6,569.7 611.5,580.0 612.0,590.0 C612.5,600.0 614.3,610.0 616.4,620.0 C618.5,630.0 622.7,644.0 624.5,650.0 C626.3,656.0 626.6,655.0 627.0,656.0" stroke-width="7.5" />
<path d="M688.0,452.0 C687.1,453.1 685.7,455.3 682.9,458.4 C680.1,461.5 675.6,465.2 671.0,470.6 C666.4,476.0 659.8,484.2 655.3,491.0 C650.8,497.8 647.1,504.6 644.0,511.4 C640.9,518.2 638.4,523.7 636.6,531.8 C634.8,539.9 633.9,551.1 633.0,560.0 C632.1,568.9 631.4,577.5 631.5,585.0 C631.6,592.5 632.6,599.2 633.5,605.0 C634.4,610.8 635.2,612.5 636.7,620.0 C638.2,627.5 639.9,641.1 642.4,650.0 C644.9,658.9 648.6,666.7 652.0,673.6 C655.4,680.5 657.9,685.5 662.6,691.4 C667.4,697.3 674.9,703.4 680.5,709.3 C686.1,715.2 693.4,724.0 696.0,727.0" stroke-width="8" />
<path d="M335.0,446.5 L450.0,444.5 L688.0,441.0" stroke-width="6" />
<path d="M345.0,727.5 L500.0,728.5 L714.0,730.0" stroke-width="11" />
<ellipse cx="272" cy="509" rx="3.5" ry="2" fill="#000" stroke="none" transform="rotate(-25 272 509)"/>
<ellipse cx="267" cy="517" rx="3.5" ry="2" fill="#000" stroke="none" transform="rotate(-25 267 517)"/>
<line x1="297.5" y1="572.5" x2="305.5" y2="572.5" stroke-width="11"/>
<line x1="357.8" y1="573.5" x2="375.2" y2="573.5" stroke-width="11.5"/>
<line x1="423.8" y1="574" x2="436.2" y2="574" stroke-width="9.5"/>
<line x1="485.2" y1="574.5" x2="499.8" y2="574.5" stroke-width="8.5"/>
<line x1="540.8" y1="575" x2="556.2" y2="575" stroke-width="7.5"/>
<line x1="588.5" y1="576" x2="592.5" y2="576" stroke-width="7"/>
<line x1="534.5" y1="551" x2="548.5" y2="551" stroke-width="7"/>
<line x1="580.2" y1="552" x2="586.8" y2="552" stroke-width="6.5"/>
<line x1="577.2" y1="526" x2="593.8" y2="526" stroke-width="6.5"/>
<line x1="302.8" y1="604" x2="311.2" y2="604" stroke-width="9.5"/>
<line x1="355.2" y1="604.5" x2="366.8" y2="604.5" stroke-width="10.5"/>
<line x1="409.5" y1="605" x2="421.5" y2="605" stroke-width="9"/>
<line x1="453.0" y1="605" x2="512.0" y2="605" stroke-width="8"/>
<line x1="549.5" y1="606" x2="565.5" y2="606" stroke-width="7"/>
<line x1="584.2" y1="606" x2="608.8" y2="606" stroke-width="6.5"/>
<line x1="395.0" y1="622" x2="420.0" y2="622" stroke-width="8"/>
<line x1="484.5" y1="622" x2="497.5" y2="622" stroke-width="7"/>
<line x1="554.0" y1="622" x2="612.0" y2="622" stroke-width="6"/>
<line x1="592.8" y1="641" x2="609.2" y2="641" stroke-width="5.5"/>
<line x1="447" y1="502" x2="545" y2="506" stroke-width="4"/>
<line x1="577" y1="509" x2="616" y2="510" stroke-width="3.5"/>
<line x1="305" y1="515.5" x2="380" y2="518.7" stroke-width="4"/>
<line x1="308" y1="544.5" x2="351" y2="547" stroke-width="4"/>
<line x1="393" y1="547.7" x2="417" y2="548.5" stroke-width="4"/>
<line x1="467" y1="550" x2="493" y2="550.5" stroke-width="4"/>
<line x1="294" y1="621.5" x2="364" y2="622" stroke-width="7.5"/>
<line x1="358" y1="641" x2="428" y2="641" stroke-width="6"/>
<line x1="462" y1="641" x2="555" y2="641" stroke-width="6"/>
<path d="M323,573 l4,-2 l2,-4 l5,2 l4,-1 l2,5 l4,2 l2,6 l-1,6 l-4,4 l-3,5 l-5,-1 l-3,2 l-3,-4 l-4,-3 l0,-5 l-2,-5 l2,-4z" fill="#000" stroke="none"/>
<circle cx="337" cy="588" r="2.6" fill="#fff" stroke="none"/><circle cx="328" cy="590" r="1.3" fill="#fff" stroke="none"/><circle cx="340" cy="578" r="1.2" fill="#fff" stroke="none"/>
<circle cx="393" cy="589" r="1.3" fill="#000" stroke="none"/><circle cx="393" cy="597" r="1.3" fill="#000" stroke="none"/>
<text x="0" y="0" font-size="36" style="font-style:normal;font-weight:normal;stroke-width:2.2px" letter-spacing="7.5" transform="translate(331,545.5) rotate(1.0) skewX(-9)">MAGNET</text>
<path d="M402,287 C430,279 455,267 476,263.5 L672,266" stroke-width="6"/>
<path d="M405,289.5 L560,290 C568,290 574,291 579,295" stroke-width="12.5"/>
<path d="M499.5,268 C497,274 494,277 495,280 C496,284 503,284 504,280 C505,277 502,274 499.5,268Z" fill="#000" stroke="#000" stroke-width="1.5"/>
<path d="M579,293 C580,310 581.5,335 581.5,353" stroke-width="10"/>
<path d="M578,292 C582,284 590,279.5 601,278 L645,277 C655,277.5 662,280 668,286" stroke-width="6.2"/>
<path d="M591.5,288.7 C605,285 625,284 640,284.8" stroke-width="2"/>
<path d="M584,306 C588,299 593,295.5 600,294 L655,292.5 C662,292.5 667,294 670,298" stroke-width="7"/>
<path d="M674,290 L674.6,367" stroke-width="12"/>
<path d="M637.4,296 l0.5,5" stroke-width="3.5"/>
<circle cx="627" cy="319.5" r="8.8" stroke-width="6"/>
<path d="M549,331 L578,330" stroke-width="5"/>
<ellipse cx="492" cy="310" rx="52" ry="9.5" stroke-width="6.5" transform="rotate(-4 492 310)"/>
<ellipse cx="498" cy="326" rx="50" ry="11" stroke-width="6.5" transform="rotate(-3 498 326)"/>
<ellipse cx="490" cy="340.5" rx="38" ry="9.5" stroke-width="6.5"/>
<path d="M444,318 C470,306 520,300 546,303" stroke-width="5"/>
<path d="M372.0,298.8 L384.0,301.5" stroke-width="4.3" />
<path d="M391.0,303.0 L422.5,314.5" stroke-width="3.2" />
<rect x="674" y="329" width="16" height="40" fill="#000" stroke="none"/>
<circle cx="684.5" cy="338" r="4" fill="#fff" stroke="none"/>
<path d="M694,268 L740,270 L757,283 L763,300 L761.5,300.0 L761.7,400.0 L761.7,470.0 L760.0,540.0 L755.5,610.0 L751.0,660.0 L749.0,700.0 L744.0,722.0 L727,728 L720,705 L715,680 L709,652 L702,620 L699,575 L698,530 L694,400 Z" fill="#fff" stroke="none"/>
<defs><clipPath id="cArm"><path d="M694,268 L740,270 L757,283 L763,300 L761.5,300.0 L761.7,400.0 L761.7,470.0 L760.0,540.0 L755.5,610.0 L751.0,660.0 L749.0,700.0 L744.0,722.0 L727,728 L720,705 L715,680 L709,652 L702,620 L699,575 L698,530 L694,400 Z"/></clipPath></defs>
<g clip-path="url(#cArm)">
<path d="M693.5,285.0 C694.1,286.7 696.1,291.7 697.3,295.0 C698.5,298.3 699.5,301.2 700.7,305.0 C701.8,308.8 703.1,313.0 704.2,318.0 C705.3,323.0 706.7,328.0 707.3,335.0 C707.9,342.0 707.9,349.2 708.0,360.0 C708.1,370.8 708.1,386.7 708.1,400.0 C708.1,413.3 708.1,433.3 708.2,440.0" stroke-width="3.6" />
<path d="M708.2,440.0 C708.2,446.7 708.2,465.0 708.2,480.0 C708.2,495.0 708.1,521.7 708.1,530.0" stroke-width="3.6" />
<path d="M708.1,530.0 C708.3,537.5 708.0,558.3 709.1,575.0 C710.2,591.7 713.9,620.8 714.9,630.0" stroke-width="3.2" />
<path d="M714.9,630.0 C716.4,638.3 721.5,666.3 723.9,680.0 C726.2,693.7 727.6,704.2 728.9,712.0 C730.3,719.8 731.3,724.5 731.8,727.0" stroke-width="2.8" />
<path d="M700.2,285.4 C700.8,287.0 702.8,291.7 704.0,295.0 C705.2,298.3 706.1,301.2 707.3,305.0 C708.4,308.8 709.7,313.0 710.7,318.0 C711.8,323.0 713.1,328.0 713.8,335.0 C714.4,342.0 714.3,349.2 714.5,360.0 C714.6,370.8 714.5,386.7 714.5,400.0 C714.6,413.3 714.6,433.3 714.6,440.0" stroke-width="4.0" />
<path d="M714.6,440.0 C714.6,446.7 714.6,465.0 714.6,480.0 C714.5,495.0 714.4,521.7 714.3,530.0" stroke-width="3.6" />
<path d="M714.3,530.0 C714.4,537.5 714.1,558.3 714.9,575.0 C715.8,591.7 718.8,620.8 719.6,630.0" stroke-width="3.2" />
<path d="M719.6,630.0 C720.8,638.3 725.1,666.3 727.1,680.0 C729.0,693.7 730.1,704.2 731.1,712.0 C732.1,719.8 732.8,724.5 733.2,727.0" stroke-width="2.8" />
<path d="M706.9,285.8 C707.5,287.3 709.5,291.8 710.6,295.0 C711.8,298.2 712.7,301.2 713.8,305.0 C715.0,308.8 716.2,313.0 717.3,318.0 C718.3,323.0 719.6,328.0 720.2,335.0 C720.8,342.0 720.8,349.2 720.9,360.0 C721.0,370.8 721.0,386.7 721.0,400.0 C721.0,413.3 721.0,433.3 721.0,440.0" stroke-width="4.0" />
<path d="M721.0,440.0 C721.0,446.7 721.1,465.0 721.0,480.0 C720.9,495.0 720.7,521.7 720.6,530.0" stroke-width="3.6" />
<path d="M720.6,530.0 C720.6,537.5 720.1,558.3 720.8,575.0 C721.4,591.7 723.6,620.8 724.2,630.0" stroke-width="3.2" />
<path d="M724.2,630.0 C725.2,638.3 728.7,666.3 730.2,680.0 C731.7,693.7 732.5,704.2 733.2,712.0 C734.0,719.8 734.4,724.5 734.6,727.0" stroke-width="2.8" />
<path d="M713.6,286.2 C714.2,287.7 716.1,291.9 717.3,295.0 C718.4,298.1 719.3,301.2 720.4,305.0 C721.5,308.8 722.8,313.0 723.8,318.0 C724.8,323.0 726.1,328.0 726.7,335.0 C727.3,342.0 727.3,349.2 727.4,360.0 C727.5,370.8 727.4,386.7 727.4,400.0 C727.4,413.3 727.5,433.3 727.5,440.0" stroke-width="3.6" />
<path d="M727.5,440.0 C727.5,446.7 727.5,465.0 727.4,480.0 C727.3,495.0 726.9,521.7 726.8,530.0" stroke-width="3.6" />
<path d="M726.8,530.0 C726.8,537.5 726.2,558.3 726.6,575.0 C726.9,591.7 728.5,620.8 728.9,630.0" stroke-width="3.2" />
<path d="M728.9,630.0 C729.7,638.3 732.3,666.3 733.4,680.0 C734.5,693.7 734.9,704.2 735.4,712.0 C735.8,719.8 736.0,724.5 736.1,727.0" stroke-width="2.8" />
<path d="M720.3,286.6 C720.9,288.0 722.8,291.9 723.9,295.0 C725.0,298.1 725.9,301.2 727.0,305.0 C728.1,308.8 729.3,313.0 730.3,318.0 C731.3,323.0 732.6,328.0 733.2,335.0 C733.7,342.0 733.7,349.2 733.8,360.0 C733.9,370.8 733.9,386.7 733.9,400.0 C733.9,413.3 733.9,433.3 733.9,440.0" stroke-width="4.0" />
<path d="M733.9,440.0 C733.9,446.7 733.9,465.0 733.8,480.0 C733.6,495.0 733.2,521.7 733.1,530.0" stroke-width="3.6" />
<path d="M733.1,530.0 C733.0,537.5 732.3,558.3 732.4,575.0 C732.5,591.7 733.4,620.8 733.6,630.0" stroke-width="3.2" />
<path d="M733.6,630.0 C734.1,638.3 736.0,666.3 736.6,680.0 C737.3,693.7 737.4,704.2 737.5,712.0 C737.7,719.8 737.5,724.5 737.5,727.0" stroke-width="2.8" />
<path d="M727.0,287.0 C727.6,288.3 729.4,292.0 730.5,295.0 C731.6,298.0 732.5,301.2 733.6,305.0 C734.6,308.8 735.8,313.0 736.8,318.0 C737.8,323.0 739.1,328.0 739.6,335.0 C740.2,342.0 740.2,349.2 740.3,360.0 C740.4,370.8 740.3,386.7 740.3,400.0 C740.3,413.3 740.3,433.3 740.3,440.0" stroke-width="4.0" />
<path d="M740.3,440.0 C740.3,446.7 740.4,465.0 740.2,480.0 C740.0,495.0 739.5,521.7 739.3,530.0" stroke-width="3.6" />
<path d="M739.3,530.0 C739.1,537.5 738.4,558.3 738.2,575.0 C738.1,591.7 738.2,620.8 738.2,630.0" stroke-width="3.2" />
<path d="M738.2,630.0 C738.5,638.3 739.6,666.3 739.8,680.0 C740.0,693.7 739.8,704.2 739.7,712.0 C739.5,719.8 739.1,724.5 738.9,727.0" stroke-width="2.8" />
<path d="M733.7,287.4 C734.3,288.7 736.1,292.1 737.2,295.0 C738.2,297.9 739.1,301.2 740.2,305.0 C741.2,308.8 742.4,313.0 743.4,318.0 C744.4,323.0 745.5,328.0 746.1,335.0 C746.7,342.0 746.6,349.2 746.7,360.0 C746.8,370.8 746.8,386.7 746.8,400.0 C746.8,413.3 746.8,433.3 746.8,440.0" stroke-width="3.6" />
<path d="M746.8,440.0 C746.7,446.7 746.8,465.0 746.6,480.0 C746.4,495.0 745.7,521.7 745.6,530.0" stroke-width="3.6" />
<path d="M745.6,530.0 C745.3,537.5 744.5,558.3 744.1,575.0 C743.6,591.7 743.1,620.8 742.9,630.0" stroke-width="3.2" />
<path d="M742.9,630.0 C742.9,638.3 743.2,666.3 743.0,680.0 C742.8,693.7 742.3,704.2 741.8,712.0 C741.4,719.8 740.6,724.5 740.4,727.0" stroke-width="2.8" />
<path d="M740.4,287.8 C741.0,289.0 742.7,292.1 743.8,295.0 C744.9,297.9 745.7,301.2 746.8,305.0 C747.8,308.8 748.9,313.0 749.9,318.0 C750.9,323.0 752.0,328.0 752.6,335.0 C753.1,342.0 753.1,349.2 753.2,360.0 C753.3,370.8 753.2,386.7 753.2,400.0 C753.2,413.3 753.2,433.3 753.2,440.0" stroke-width="4.0" />
<path d="M753.2,440.0 C753.2,446.7 753.2,465.0 753.0,480.0 C752.8,495.0 752.0,521.7 751.8,530.0" stroke-width="3.6" />
<path d="M751.8,530.0 C751.5,537.5 750.6,558.3 749.9,575.0 C749.2,591.7 748.0,620.8 747.6,630.0" stroke-width="3.2" />
<path d="M747.6,630.0 C747.4,638.3 746.8,666.3 746.2,680.0 C745.6,693.7 744.7,704.2 744.0,712.0 C743.2,719.8 742.2,724.5 741.8,727.0" stroke-width="2.8" />
<path d="M711.4,430.0 C711.4,441.7 711.3,480.8 711.3,500.0 C711.3,519.2 711.2,530.0 711.5,545.0 C711.8,560.0 712.3,575.8 713.2,590.0 C714.2,604.2 716.5,623.3 717.2,630.0" stroke-width="1.0" />
<path d="M717.9,470.0 C717.8,475.0 717.7,487.5 717.7,500.0 C717.6,512.5 717.5,530.0 717.7,545.0 C717.8,560.0 717.4,570.8 718.8,590.0 C720.1,609.2 724.7,648.3 725.8,660.0" stroke-width="1.0" />
<path d="M723.9,510.0 C723.9,508.3 724.0,494.2 724.0,500.0 C724.0,505.8 723.7,530.0 723.8,545.0 C723.8,560.0 723.9,575.8 724.3,590.0 C724.8,604.2 726.2,623.3 726.6,630.0" stroke-width="1.0" />
<path d="M730.7,430.0 C730.6,441.7 730.5,480.8 730.3,500.0 C730.2,519.2 730.0,530.0 729.9,545.0 C729.8,560.0 729.3,570.8 729.9,590.0 C730.4,609.2 732.7,648.3 733.3,660.0" stroke-width="1.0" />
<path d="M737.1,470.0 C737.1,475.0 736.9,487.5 736.7,500.0 C736.5,512.5 736.2,530.0 736.0,545.0 C735.8,560.0 735.5,575.8 735.4,590.0 C735.4,604.2 735.8,623.3 735.9,630.0" stroke-width="1.0" />
<path d="M742.8,510.0 C742.8,508.3 743.1,494.2 743.0,500.0 C742.9,505.8 742.5,530.0 742.2,545.0 C741.8,560.0 741.2,570.8 741.0,590.0 C740.8,609.2 740.8,648.3 740.7,660.0" stroke-width="1.0" />
<path d="M750.0,430.0 C749.9,441.7 749.6,480.8 749.3,500.0 C749.1,519.2 748.8,530.0 748.3,545.0 C747.8,560.0 747.1,575.8 746.6,590.0 C746.1,604.2 745.5,623.3 745.3,630.0" stroke-width="1.0" />
</g>
<path d="M694.5,287 L694.5,532" stroke-width="15" stroke-linecap="butt"/>
<path d="M676,286 Q690,280 700,292" stroke-width="5"/>
<path d="M697.0,520.0 C697.2,529.2 697.5,558.3 698.5,575.0 C699.5,591.7 701.1,607.2 703.0,620.0 C704.9,632.8 707.8,642.0 710.0,652.0 C712.2,662.0 714.2,671.2 716.0,680.0 C717.8,688.8 718.8,697.3 720.5,705.0 C722.2,712.7 725.1,722.5 726.0,726.0" stroke-width="10" />
<path d="M761.5,300.0 C761.5,316.7 761.7,371.7 761.7,400.0 C761.7,428.3 762.0,446.7 761.7,470.0 C761.4,493.3 761.0,516.7 760.0,540.0 C759.0,563.3 757.0,590.0 755.5,610.0 C754.0,630.0 752.1,645.0 751.0,660.0 C749.9,675.0 750.2,689.7 749.0,700.0 C747.8,710.3 744.8,718.3 744.0,722.0" stroke-width="7" />
<path d="M672,266 L728,269.5 C748,272 759,284 761.5,306" stroke-width="6"/>
<path d="M690.0,528.0 C688.7,530.0 684.2,534.7 682.0,540.0 C679.8,545.3 678.2,552.5 677.0,560.0 C675.8,567.5 675.0,576.7 675.0,585.0 C675.0,593.3 675.7,602.5 677.0,610.0 C678.3,617.5 680.3,624.2 683.0,630.0 C685.7,635.8 689.2,640.5 693.0,645.0 C696.8,649.5 703.8,664.5 706.0,657.0 C708.2,649.5 707.0,621.5 706.0,600.0 C705.0,578.5 701.0,540.0 700.0,528.0Z" fill="#000" stroke="#000" stroke-width="3"/>
<line x1="683.6" y1="548.0" x2="688.6" y2="547.4" stroke="#fff" stroke-width="1.8" stroke-linecap="butt"/>
<line x1="682.8" y1="554.4" x2="687.8" y2="553.8" stroke="#fff" stroke-width="1.8" stroke-linecap="butt"/>
<line x1="682.1" y1="560.8" x2="687.1" y2="560.2" stroke="#fff" stroke-width="1.8" stroke-linecap="butt"/>
<line x1="681.5" y1="567.2" x2="686.5" y2="566.6" stroke="#fff" stroke-width="1.8" stroke-linecap="butt"/>
<line x1="681.0" y1="573.6" x2="686.0" y2="573.0" stroke="#fff" stroke-width="1.8" stroke-linecap="butt"/>
<line x1="680.7" y1="580.0" x2="685.7" y2="579.4" stroke="#fff" stroke-width="1.8" stroke-linecap="butt"/>
<line x1="680.5" y1="586.4" x2="685.5" y2="585.8" stroke="#fff" stroke-width="1.8" stroke-linecap="butt"/>
<line x1="680.5" y1="592.8" x2="685.5" y2="592.2" stroke="#fff" stroke-width="1.8" stroke-linecap="butt"/>
<line x1="680.7" y1="599.2" x2="685.7" y2="598.6" stroke="#fff" stroke-width="1.8" stroke-linecap="butt"/>
<line x1="681.0" y1="605.6" x2="686.0" y2="605.0" stroke="#fff" stroke-width="1.8" stroke-linecap="butt"/>
<line x1="681.5" y1="612.0" x2="686.5" y2="611.4" stroke="#fff" stroke-width="1.8" stroke-linecap="butt"/>
<line x1="682.1" y1="618.4" x2="687.1" y2="617.8" stroke="#fff" stroke-width="1.8" stroke-linecap="butt"/>
<line x1="682.8" y1="624.8" x2="687.8" y2="624.2" stroke="#fff" stroke-width="1.8" stroke-linecap="butt"/>
<line x1="683.6" y1="631.2" x2="688.6" y2="630.6" stroke="#fff" stroke-width="1.8" stroke-linecap="butt"/>
<path d="M763.0,463.0 C765.3,467.2 772.5,477.7 777.0,488.0 C781.5,498.3 786.7,513.0 790.0,525.0 C793.3,537.0 795.5,549.2 797.0,560.0 C798.5,570.8 799.3,578.3 799.0,590.0 C798.7,601.7 797.0,618.7 795.0,630.0 C793.0,641.3 789.4,650.7 787.0,658.0 C784.6,665.3 781.6,671.3 780.5,674.0" stroke-width="6.5" />
<path d="M753.2,242.6 L844.3,245.0 L870.0,303.3 L936.2,480.0 L970.7,580.0 L884.4,579.4Z" fill="#fff" stroke="#000" stroke-width="5.6" />
<path d="M753.2,242.6 L884.4,579.4" stroke-width="10" />
<path d="M884.4,579.4 L970.7,580.3" stroke-width="6.5" />
<circle cx="827" cy="336" r="8" fill="#000" stroke="none"/>
<path d="M825.0,332.0 C825.2,330.8 824.7,327.1 826.0,325.0 C827.3,322.9 830.2,320.7 833.0,319.5 C835.8,318.3 839.3,317.8 843.0,318.0 C846.7,318.2 851.5,319.0 855.0,321.0 C858.5,323.0 862.0,325.7 864.0,330.0 C866.0,334.3 866.5,344.2 867.0,347.0" stroke-width="8.5" />
<path d="M866.5,340.0 C866.2,343.0 865.8,351.3 865.0,358.0 C864.2,364.7 862.9,372.7 862.0,380.0 C861.1,387.3 859.9,393.2 859.6,402.0 C859.4,410.8 859.5,423.0 860.5,433.0 C861.5,443.0 863.8,453.5 865.5,462.0 C867.2,470.5 869.2,478.3 870.5,484.0 C871.8,489.7 872.6,494.0 873.0,496.0" stroke-width="12" />
<path d="M873.0,497.3 L931.0,497.5" stroke-width="12" />
<path d="M844.3,245.0 C848.6,254.7 854.7,264.1 870.0,303.3 C885.3,342.5 919.4,433.9 936.2,480.0 C953.0,526.1 965.0,563.3 970.7,580.0" stroke-width="8.8" />
<path d="M892.0,590.0 L838.0,635.0 L780.0,679.0 L745.6,708.0 L707.0,738.0 L578.0,834.0 L480.0,911.5 L349.0,1003.5 L307.0,1035.5 L489.0,947.0 L951.0,583.0Z" fill="#fff" stroke="none" stroke-width="0" />
<path d="M892.0,590.0 C883.0,597.5 856.7,620.2 838.0,635.0 C819.3,649.8 795.4,666.8 780.0,679.0 C764.6,691.2 757.8,698.2 745.6,708.0 C733.4,717.8 734.9,717.0 707.0,738.0 C679.1,759.0 615.8,805.1 578.0,834.0 C540.2,862.9 518.2,883.2 480.0,911.5 C441.8,939.8 377.8,982.8 349.0,1003.5 C320.2,1024.2 314.0,1030.2 307.0,1035.5" stroke-width="10" />
<path d="M556.0,850.0 C543.3,860.0 514.5,884.7 480.0,910.0 C445.5,935.3 377.3,981.7 349.0,1002.0 C320.7,1022.3 316.5,1027.0 310.0,1032.0" stroke-width="12.5" />
<path d="M951.0,583.0 L905.0,620.0 L880.0,641.5 L780.0,717.5 L600.0,858.5 L489.0,946.0" stroke-width="6.3" />
<path d="M885.0,582.0 L917.0,583.5 L841.0,639.5 L834.5,631.0Z" fill="#000" stroke="none" stroke-width="0" />
<path d="M771.0,610.0 C774.2,610.5 783.2,611.0 790.0,613.0 C796.8,615.0 805.2,618.7 812.0,622.0 C818.8,625.3 823.0,627.2 831.0,633.0 C839.0,638.8 851.8,649.7 860.0,656.5 C868.2,663.3 874.2,669.8 880.0,674.0 C885.8,678.2 892.5,680.7 895.0,682.0" stroke-width="5.8" />
<path d="M708.5,751.0 L763.5,715.0" stroke-width="9.4" />
<path d="M719.0,748.0 L762.0,719.0 L757.5,751.0 L746.5,770.0 L725.5,781.5 L718.0,764.0Z" fill="#000" stroke="#000" stroke-width="3" />
<path d="M729.2,737.0 L733.8,734.0 L733.2,750.0 L730.3,762.0Z" fill="#fff" stroke="none" stroke-width="0" />
<path d="M745.5,733.5 L752.5,729.5 L751.0,746.0 L746.0,760.0Z" fill="#fff" stroke="none" stroke-width="0" />
<path d="M773.0,767.0 C775.0,768.7 780.5,774.3 785.0,777.0 C789.5,779.7 795.0,781.5 800.0,783.0 C805.0,784.5 810.0,785.3 815.0,786.0 C820.0,786.7 827.5,786.8 830.0,787.0" stroke-width="5.5" />
<path d="M305.0,1042.0 L350.0,1007.0 L378.0,1073.0 L337.0,1107.0 L327.0,1085.0Z" fill="#fff" stroke="#000" stroke-width="5.5" />
<path d="M305.5,1077 L343,1057 A7,7 0 0 1 350.5,1069.5 L316,1091.5 A8,8 0 0 1 305.5,1077Z" fill="#fff" stroke="#000" stroke-width="5"/>
<circle cx="311.4" cy="1083.7" r="2.5" fill="#fff" stroke="#000" stroke-width="3"/>
<path d="M350.0,1011.0 L439.5,981.0 L476.0,978.0 L487.0,1027.0 L378.5,1091.0Z" fill="#000" stroke="#000" stroke-width="6" />
<path d="M349.5,1012.0 L378.3,1090.5" stroke-width="9" />
<line x1="366.5" y1="1021.5" x2="371.0" y2="1033.5" stroke="#fff" stroke-width="3.4" stroke-linecap="round"/>
<line x1="374.5" y1="1018.4" x2="379.0" y2="1029.8" stroke="#fff" stroke-width="3.4" stroke-linecap="round"/>
<line x1="382.5" y1="1015.3" x2="387.0" y2="1026.1" stroke="#fff" stroke-width="3.4" stroke-linecap="round"/>
<line x1="390.5" y1="1012.2" x2="395.0" y2="1022.4" stroke="#fff" stroke-width="3.4" stroke-linecap="round"/>
<line x1="398.5" y1="1009.1" x2="403.0" y2="1018.7" stroke="#fff" stroke-width="3.4" stroke-linecap="round"/>
<line x1="406.5" y1="1006.0" x2="411.0" y2="1015.0" stroke="#fff" stroke-width="3.4" stroke-linecap="round"/>
<line x1="414.5" y1="1002.9" x2="419.0" y2="1011.3" stroke="#fff" stroke-width="3.4" stroke-linecap="round"/>
<line x1="422.5" y1="999.8" x2="427.0" y2="1007.6" stroke="#fff" stroke-width="3.4" stroke-linecap="round"/>
<line x1="430.5" y1="996.7" x2="435.0" y2="1003.9" stroke="#fff" stroke-width="3.4" stroke-linecap="round"/>
<path d="M376.5,1043 L469,990.5" stroke="#fff" stroke-width="7.6"/>
<path d="M444,984.5 L468,986" stroke="#fff" stroke-width="5.5"/>
<line x1="388.0" y1="1055.0" x2="392.5" y2="1067.0" stroke="#fff" stroke-width="3.4" stroke-linecap="round"/>
<line x1="396.0" y1="1050.6" x2="400.5" y2="1062.6" stroke="#fff" stroke-width="3.4" stroke-linecap="round"/>
<line x1="404.0" y1="1046.2" x2="408.5" y2="1058.2" stroke="#fff" stroke-width="3.4" stroke-linecap="round"/>
<line x1="412.0" y1="1041.8" x2="416.5" y2="1053.8" stroke="#fff" stroke-width="3.4" stroke-linecap="round"/>
<line x1="420.0" y1="1037.4" x2="424.5" y2="1049.4" stroke="#fff" stroke-width="3.4" stroke-linecap="round"/>
<line x1="428.0" y1="1033.0" x2="432.5" y2="1045.0" stroke="#fff" stroke-width="3.4" stroke-linecap="round"/>
<line x1="436.0" y1="1028.6" x2="440.5" y2="1040.6" stroke="#fff" stroke-width="3.4" stroke-linecap="round"/>
<line x1="444.0" y1="1024.2" x2="448.5" y2="1036.2" stroke="#fff" stroke-width="3.4" stroke-linecap="round"/>
<line x1="452.0" y1="1019.8" x2="456.5" y2="1031.8" stroke="#fff" stroke-width="3.4" stroke-linecap="round"/>
<line x1="460.0" y1="1015.4" x2="464.5" y2="1027.4" stroke="#fff" stroke-width="3.4" stroke-linecap="round"/>
<line x1="468.0" y1="1011.0" x2="472.5" y2="1023.0" stroke="#fff" stroke-width="3.4" stroke-linecap="round"/>
<path d="M389,1081.5 L476,1027" stroke="#fff" stroke-width="5.5"/>
<path d="M483.0,958.0 L488.0,952.5 L505.0,1003.0 L486.0,1014.0Z" fill="#fff" stroke="#000" stroke-width="6.5" />
<path d="M479.8,959.0 L486.5,1025.0" stroke-width="10.7" />
<path d="M494,969 C496,961 510,955 516.5,961 C521,967 512,976 501,979" stroke-width="5.5" fill="#fff"/>
<circle cx="484.6" cy="992.7" r="1.2" fill="#fff" stroke="none"/>
<path d="M514.0,988.0 C516.7,989.0 524.0,992.2 530.0,994.0 C536.0,995.8 542.5,997.8 550.0,999.0 C557.5,1000.2 567.0,1000.8 575.0,1001.0 C583.0,1001.2 594.2,1000.2 598.0,1000.0" stroke-width="4.8" />
<path d="M812.5,199.0 C809.9,199.4 802.4,200.1 797.0,201.5 C791.6,202.9 786.2,205.2 780.0,207.5 C773.8,209.8 766.7,212.6 760.0,215.5 C753.3,218.4 746.7,221.8 740.0,225.0 C733.3,228.2 726.2,231.8 720.0,235.0 C713.8,238.2 708.2,241.4 703.0,244.0 C697.8,246.6 693.8,248.0 688.6,250.5 C683.4,253.0 676.6,256.5 672.0,259.0 C667.4,261.5 663.8,263.2 661.0,265.5 C658.2,267.8 656.5,270.6 655.0,273.0 C653.5,275.4 652.5,278.8 652.0,280.0" stroke-width="5.5" />
<path d="M990.0,547.0 C992.5,547.3 1000.0,547.5 1005.0,549.0 C1010.0,550.5 1015.0,552.8 1020.0,556.0 C1025.0,559.2 1030.5,564.0 1035.0,568.0 C1039.5,572.0 1044.2,577.2 1047.0,580.0 C1049.8,582.8 1051.2,584.2 1052.0,585.0" stroke-width="6" />
<path d="M239.0,836.0 L273.0,831.5" stroke-width="6" />
<text x="0" y="0" font-size="33" letter-spacing="2.5" style="stroke-width:0.8px" transform="translate(226,312) rotate(0)" >SPRING</text>
<text x="0" y="0" font-size="36.5" letter-spacing="8.2" style="stroke-width:1.8px" transform="translate(828,213.5) rotate(0)" >PIVOT</text>
<text x="0" y="0" font-size="38.3" letter-spacing="5.2" style="stroke-width:1.0px" transform="translate(1062,603) rotate(1.6)" >DROP<tspan style="font-weight:normal;stroke-width:0" dy="2">_</tspan><tspan dy="-2">BAR</tspan></text>
<text x="0" y="0" font-size="37.5" letter-spacing="3.3" style="stroke-width:0.8px" transform="translate(911,703) rotate(1.5)" >ARMATURE</text>
<text x="0" y="0" font-size="37.5" letter-spacing="3.6" style="stroke-width:1.4px" transform="translate(847,807) rotate(0)" >HOOK</text>
<text x="0" y="0" font-size="39.5" letter-spacing="-0.6" style="stroke-width:2.4px" transform="translate(91,863) rotate(-3.8)" >FRAME</text>
<text x="0" y="0" font-size="36.5" letter-spacing="8.0" style="stroke-width:1.6px" transform="translate(616,1018) rotate(0)" >PIVOT</text>
<circle cx="1154" cy="684" r="1.6" fill="#000" stroke="none"/>
<path d="M1151,708 l1,6" stroke-width="2.5"/>
<path d="M966,780 l5,-1" stroke-width="3"/>
<circle cx="962" cy="813" r="1.2" fill="#000" stroke="none"/>
<path d="M972,189 l3,-3" stroke-width="2.5"/>
<rect x="199" y="57" width="3" height="3" fill="#000" stroke="none"/>
<rect x="930" y="42" width="1.5" height="1.5" fill="#000" stroke="none"/>
<rect x="222" y="1129" width="4" height="1.5" fill="#000" stroke="none"/>
<rect x="444" y="1112" width="1.2" height="4" fill="#000" stroke="none"/>
<rect x="230" y="860" width="2.5" height="2" fill="#000" stroke="none"/>
</svg>
</body></html>
